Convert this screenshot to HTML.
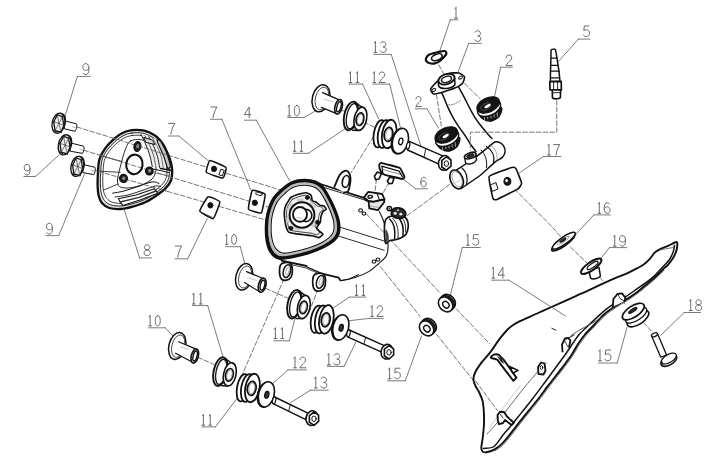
<!DOCTYPE html>
<html><head><meta charset="utf-8"><style>
html,body{margin:0;padding:0;background:#fff;}
svg{display:block;}
</style></head><body>
<svg width="710" height="465" viewBox="0 0 710 465" stroke-linecap="round" stroke-linejoin="round">
<rect width="710" height="465" fill="#fff"/>
<polyline points="77,127 282,190.5" stroke="#666666" stroke-width="0.9" fill="none" stroke-dasharray="4.6 2.2"/>
<polyline points="84,150.3 268,207" stroke="#666666" stroke-width="0.9" fill="none" stroke-dasharray="4.6 2.2"/>
<polyline points="95.5,170.5 266,220" stroke="#666666" stroke-width="0.9" fill="none" stroke-dasharray="4.6 2.2"/>
<polyline points="436.5,94.8 441.3,125.8" stroke="#666666" stroke-width="0.9" fill="none" stroke-dasharray="4.6 2.2"/>
<polyline points="464.5,83.2 480,98.7" stroke="#666666" stroke-width="0.9" fill="none" stroke-dasharray="4.6 2.2"/>
<polyline points="438.7,64.8 443.5,73.5" stroke="#666666" stroke-width="0.9" fill="none" stroke-dasharray="4.6 2.2"/>
<polyline points="505,179.5 549.4,224.1 561,236.8" stroke="#666666" stroke-width="0.9" fill="none" stroke-dasharray="4.6 2.2"/>
<polyline points="570.5,247 587.5,263.5" stroke="#666666" stroke-width="0.9" fill="none" stroke-dasharray="4.6 2.2"/>
<polyline points="599.7,277.4 625,304" stroke="#666666" stroke-width="0.9" fill="none" stroke-dasharray="4.6 2.2"/>
<polyline points="638.9,317.6 652.7,332.4" stroke="#666666" stroke-width="0.9" fill="none" stroke-dasharray="4.6 2.2"/>
<polyline points="449.5,184.6 407.4,215.5" stroke="#666666" stroke-width="0.9" fill="none" stroke-dasharray="4.6 2.2"/>
<polyline points="341,110 348,112.5" stroke="#666666" stroke-width="0.9" fill="none" stroke-dasharray="4.6 2.2"/>
<polyline points="364,122 376,128" stroke="#666666" stroke-width="0.9" fill="none" stroke-dasharray="4.6 2.2"/>
<polyline points="373.6,136.5 351.1,172.6" stroke="#666666" stroke-width="0.9" fill="none" stroke-dasharray="4.6 2.2"/>
<polyline points="456.3,308.9 489.5,343.6" stroke="#666666" stroke-width="0.9" fill="none" stroke-dasharray="4.6 2.2"/>
<polyline points="376,261.2 420.1,316.4" stroke="#666666" stroke-width="0.9" fill="none" stroke-dasharray="4.6 2.2"/>
<polyline points="436.7,334.5 498.8,412.3" stroke="#666666" stroke-width="0.9" fill="none" stroke-dasharray="4.6 2.2"/>
<polyline points="284,279 239,382" stroke="#666666" stroke-width="0.9" fill="none" stroke-dasharray="4.6 2.2"/>
<polyline points="318,289 310,310" stroke="#666666" stroke-width="0.9" fill="none" stroke-dasharray="4.6 2.2"/>
<polyline points="266,288.5 288.5,298.5" stroke="#666666" stroke-width="0.9" fill="none" stroke-dasharray="4.6 2.2"/>
<polyline points="198.1,357.4 214,364.5" stroke="#666666" stroke-width="0.9" fill="none" stroke-dasharray="4.6 2.2"/>
<polyline points="376.5,179 375,191" stroke="#666666" stroke-width="0.9" fill="none" stroke-dasharray="4.6 2.2"/>
<polyline points="389,182.5 383,193" stroke="#666666" stroke-width="0.9" fill="none" stroke-dasharray="4.6 2.2"/>
<path d="M0.7,9.3 C1.3,10.2 2.1,10.6 3.1,10.6 C5.1,10.6 6.1,8.4 6.1,5.1 C6.1,1.8 5,0 3.1,0 C1.4,0 0.2,1.3 0.2,3.3 C0.2,5.3 1.4,6.5 3.1,6.5 C4.6,6.5 5.7,5.6 6.1,4.1" transform="translate(82.6 63.6) scale(1.04)" stroke="#5a5a5a" stroke-width="0.87" fill="none"/>
<polyline points="77.4,76.4 90.3,76.4" stroke="#5a5a5a" stroke-width="0.8" fill="none" />
<polyline points="77.4,76.4 64.5,118" stroke="#5a5a5a" stroke-width="0.8" fill="none" />
<path d="M0.7,9.3 C1.3,10.2 2.1,10.6 3.1,10.6 C5.1,10.6 6.1,8.4 6.1,5.1 C6.1,1.8 5,0 3.1,0 C1.4,0 0.2,1.3 0.2,3.3 C0.2,5.3 1.4,6.5 3.1,6.5 C4.6,6.5 5.7,5.6 6.1,4.1" transform="translate(24 164.4) scale(1)" stroke="#5a5a5a" stroke-width="0.9" fill="none"/>
<polyline points="23.9,176.5 35.5,176.5" stroke="#5a5a5a" stroke-width="0.8" fill="none" />
<polyline points="35.5,176.5 59,155" stroke="#5a5a5a" stroke-width="0.8" fill="none" />
<path d="M0.7,9.3 C1.3,10.2 2.1,10.6 3.1,10.6 C5.1,10.6 6.1,8.4 6.1,5.1 C6.1,1.8 5,0 3.1,0 C1.4,0 0.2,1.3 0.2,3.3 C0.2,5.3 1.4,6.5 3.1,6.5 C4.6,6.5 5.7,5.6 6.1,4.1" transform="translate(46.2 223.2) scale(1.02)" stroke="#5a5a5a" stroke-width="0.88" fill="none"/>
<polyline points="46.1,235.6 58.7,235.6" stroke="#5a5a5a" stroke-width="0.8" fill="none" />
<polyline points="58.7,235.6 84.5,174" stroke="#5a5a5a" stroke-width="0.8" fill="none" />
<path d="M3.2,5 C1.7,5 0.6,4 0.6,2.5 C0.6,1 1.7,0 3.2,0 C4.7,0 5.8,1 5.8,2.5 C5.8,4 4.7,5 3.2,5 C1.4,5 0.2,6.1 0.2,7.8 C0.2,9.5 1.4,10.6 3.2,10.6 C5,10.6 6.2,9.5 6.2,7.8 C6.2,6.1 5,5 3.2,5 Z" transform="translate(143.9 244.8) scale(1.02)" stroke="#5a5a5a" stroke-width="0.88" fill="none"/>
<polyline points="139.6,257.9 151.5,257.9" stroke="#5a5a5a" stroke-width="0.8" fill="none" />
<polyline points="139.6,257.9 124.4,210.2" stroke="#5a5a5a" stroke-width="0.8" fill="none" />
<path d="M0.2,0.2 L6.2,0.2 C4.4,3 3,6.5 2.4,10.6" transform="translate(175.1 245.8) scale(1.08)" stroke="#5a5a5a" stroke-width="0.83" fill="none"/>
<polyline points="175,258.8 187.7,258.8" stroke="#5a5a5a" stroke-width="0.8" fill="none" />
<polyline points="187.7,258.8 207.2,218.7" stroke="#5a5a5a" stroke-width="0.8" fill="none" />
<path d="M0.2,0.2 L6.2,0.2 C4.4,3 3,6.5 2.4,10.6" transform="translate(168.4 123.2) scale(1.04)" stroke="#5a5a5a" stroke-width="0.87" fill="none"/>
<polyline points="168.3,136 178.9,136" stroke="#5a5a5a" stroke-width="0.8" fill="none" />
<polyline points="178.9,136 208.5,161" stroke="#5a5a5a" stroke-width="0.8" fill="none" />
<path d="M0.2,0.2 L6.2,0.2 C4.4,3 3,6.5 2.4,10.6" transform="translate(210.5 106.8) scale(1.04)" stroke="#5a5a5a" stroke-width="0.87" fill="none"/>
<polyline points="210.4,119.3 221.9,119.3" stroke="#5a5a5a" stroke-width="0.8" fill="none" />
<polyline points="221.9,119.3 251,190.3" stroke="#5a5a5a" stroke-width="0.8" fill="none" />
<path d="M4.9,10.6 L4.9,0 L0,7.6 L6.4,7.6" transform="translate(244.3 107) scale(1)" stroke="#5a5a5a" stroke-width="0.9" fill="none"/>
<polyline points="244.2,120.2 256.3,120.2" stroke="#5a5a5a" stroke-width="0.8" fill="none" />
<polyline points="256.3,120.2 289.7,181" stroke="#5a5a5a" stroke-width="0.8" fill="none" />
<path d="M1.4,0 L1.4,10.6 M0,10.6 L2.8,10.6 M1.4,0 L0.2,1.1" transform="translate(287.8 105.4) scale(0.99)" stroke="#5a5a5a" stroke-width="0.91" fill="none"/>
<path d="M3.2,0 C1.5,0 0.6,2.2 0.6,5.3 C0.6,8.4 1.5,10.6 3.2,10.6 C4.9,10.6 5.8,8.4 5.8,5.3 C5.8,2.2 4.9,0 3.2,0 Z" transform="translate(293.74 105.4) scale(0.99)" stroke="#5a5a5a" stroke-width="0.91" fill="none"/>
<polyline points="287.7,117.5 304.2,117.5" stroke="#5a5a5a" stroke-width="0.8" fill="none" />
<polyline points="304.2,117.5 314.8,111.3" stroke="#5a5a5a" stroke-width="0.8" fill="none" />
<path d="M1.4,0 L1.4,10.6 M0,10.6 L2.8,10.6 M1.4,0 L0.2,1.1" transform="translate(293.3 141.1) scale(0.96)" stroke="#5a5a5a" stroke-width="0.94" fill="none"/>
<path d="M1.4,0 L1.4,10.6 M0,10.6 L2.8,10.6 M1.4,0 L0.2,1.1" transform="translate(300.04 141.1) scale(0.96)" stroke="#5a5a5a" stroke-width="0.94" fill="none"/>
<polyline points="293.2,153.3 308.4,153.3" stroke="#5a5a5a" stroke-width="0.8" fill="none" />
<polyline points="308.4,153.3 346.8,127.7" stroke="#5a5a5a" stroke-width="0.8" fill="none" />
<path d="M1.4,0 L1.4,10.6 M0,10.6 L2.8,10.6 M1.4,0 L0.2,1.1" transform="translate(349.1 72) scale(0.99)" stroke="#5a5a5a" stroke-width="0.91" fill="none"/>
<path d="M1.4,0 L1.4,10.6 M0,10.6 L2.8,10.6 M1.4,0 L0.2,1.1" transform="translate(356.03 72) scale(0.99)" stroke="#5a5a5a" stroke-width="0.91" fill="none"/>
<polyline points="349,84.1 362.6,84.1" stroke="#5a5a5a" stroke-width="0.8" fill="none" />
<polyline points="362.6,84.1 378.7,119" stroke="#5a5a5a" stroke-width="0.8" fill="none" />
<path d="M1.4,0 L1.4,10.6 M0,10.6 L2.8,10.6 M1.4,0 L0.2,1.1" transform="translate(372.9 72) scale(0.99)" stroke="#5a5a5a" stroke-width="0.91" fill="none"/>
<path d="M0.4,2.6 C0.4,0.9 1.6,0 3.2,0 C4.9,0 5.9,1.1 5.9,2.7 C5.9,4.6 4.5,5.6 3,6.9 L0.2,10.6 L6.3,10.6" transform="translate(378.84 72) scale(0.99)" stroke="#5a5a5a" stroke-width="0.91" fill="none"/>
<polyline points="372.8,84.1 389.7,84.1" stroke="#5a5a5a" stroke-width="0.8" fill="none" />
<polyline points="389.7,84.1 400.5,128" stroke="#5a5a5a" stroke-width="0.8" fill="none" />
<path d="M1.4,0 L1.4,10.6 M0,10.6 L2.8,10.6 M1.4,0 L0.2,1.1" transform="translate(374 41.8) scale(1)" stroke="#5a5a5a" stroke-width="0.9" fill="none"/>
<path d="M0.5,1.4 C1.1,0.4 2,0 3.2,0 C4.8,0 5.8,1 5.8,2.6 C5.8,4.2 4.6,5.1 3,5.1 C4.9,5.1 6.2,6.1 6.2,7.8 C6.2,9.6 4.9,10.6 3.1,10.6 C1.8,10.6 0.8,10 0.2,9" transform="translate(380 41.8) scale(1)" stroke="#5a5a5a" stroke-width="0.9" fill="none"/>
<polyline points="373.9,54.4 391.2,54.4" stroke="#5a5a5a" stroke-width="0.8" fill="none" />
<polyline points="391.2,54.4 421.5,148" stroke="#5a5a5a" stroke-width="0.8" fill="none" />
<path d="M1.4,0 L1.4,10.6 M0,10.6 L2.8,10.6 M1.4,0 L0.2,1.1" transform="translate(454.6 7.6) scale(1)" stroke="#5a5a5a" stroke-width="0.9" fill="none"/>
<polyline points="450.3,19.8 458.1,19.8" stroke="#5a5a5a" stroke-width="0.8" fill="none" />
<polyline points="450.3,19.8 439.7,51.3" stroke="#5a5a5a" stroke-width="0.8" fill="none" />
<path d="M0.5,1.4 C1.1,0.4 2,0 3.2,0 C4.8,0 5.8,1 5.8,2.6 C5.8,4.2 4.6,5.1 3,5.1 C4.9,5.1 6.2,6.1 6.2,7.8 C6.2,9.6 4.9,10.6 3.1,10.6 C1.8,10.6 0.8,10 0.2,9" transform="translate(474.6 30.8) scale(1)" stroke="#5a5a5a" stroke-width="0.9" fill="none"/>
<polyline points="468.7,43.4 481.3,43.4" stroke="#5a5a5a" stroke-width="0.8" fill="none" />
<polyline points="468.7,43.4 457.1,74.5" stroke="#5a5a5a" stroke-width="0.8" fill="none" />
<path d="M0.4,2.6 C0.4,0.9 1.6,0 3.2,0 C4.9,0 5.9,1.1 5.9,2.7 C5.9,4.6 4.5,5.6 3,6.9 L0.2,10.6 L6.3,10.6" transform="translate(505.8 55) scale(1)" stroke="#5a5a5a" stroke-width="0.9" fill="none"/>
<polyline points="500.6,67.2 512.3,67.2" stroke="#5a5a5a" stroke-width="0.8" fill="none" />
<polyline points="500.6,67.2 494.5,96.8" stroke="#5a5a5a" stroke-width="0.8" fill="none" />
<path d="M0.4,2.6 C0.4,0.9 1.6,0 3.2,0 C4.9,0 5.9,1.1 5.9,2.7 C5.9,4.6 4.5,5.6 3,6.9 L0.2,10.6 L6.3,10.6" transform="translate(415.5 96.6) scale(0.94)" stroke="#5a5a5a" stroke-width="0.95" fill="none"/>
<polyline points="415.2,108.8 426.8,108.8" stroke="#5a5a5a" stroke-width="0.8" fill="none" />
<polyline points="426.8,108.8 438.4,127.8" stroke="#5a5a5a" stroke-width="0.8" fill="none" />
<path d="M5.8,0 L1.1,0 L0.6,4.7 C1.3,4 2.2,3.8 3.2,3.8 C5,3.8 6.2,5.1 6.2,7.2 C6.2,9.3 4.9,10.6 3.1,10.6 C1.8,10.6 0.8,10 0.2,9" transform="translate(583.2 25.9) scale(1.01)" stroke="#5a5a5a" stroke-width="0.89" fill="none"/>
<polyline points="578.4,39.1 590,39.1" stroke="#5a5a5a" stroke-width="0.8" fill="none" />
<polyline points="578.4,39.1 558.5,61.5" stroke="#5a5a5a" stroke-width="0.8" fill="none" />
<path d="M5.7,1.3 C5.1,0.4 4.3,0 3.3,0 C1.3,0 0.3,2.2 0.3,5.5 C0.3,8.8 1.4,10.6 3.3,10.6 C5,10.6 6.2,9.3 6.2,7.3 C6.2,5.3 5,4.1 3.3,4.1 C1.8,4.1 0.7,5 0.3,6.5" transform="translate(420.6 177.2) scale(0.91)" stroke="#5a5a5a" stroke-width="0.99" fill="none"/>
<polyline points="415.6,188.8 427.4,188.8" stroke="#5a5a5a" stroke-width="0.8" fill="none" />
<polyline points="415.6,188.8 403.8,179.4" stroke="#5a5a5a" stroke-width="0.8" fill="none" />
<path d="M1.4,0 L1.4,10.6 M0,10.6 L2.8,10.6 M1.4,0 L0.2,1.1" transform="translate(547.6 144.4) scale(1)" stroke="#5a5a5a" stroke-width="0.9" fill="none"/>
<path d="M0.2,0.2 L6.2,0.2 C4.4,3 3,6.5 2.4,10.6" transform="translate(553.6 144.4) scale(1)" stroke="#5a5a5a" stroke-width="0.9" fill="none"/>
<polyline points="543.5,156.5 561,156.5" stroke="#5a5a5a" stroke-width="0.8" fill="none" />
<polyline points="543.5,156.5 515.5,175.5" stroke="#5a5a5a" stroke-width="0.8" fill="none" />
<path d="M1.4,0 L1.4,10.6 M0,10.6 L2.8,10.6 M1.4,0 L0.2,1.1" transform="translate(597.9 202.7) scale(1)" stroke="#5a5a5a" stroke-width="0.9" fill="none"/>
<path d="M5.7,1.3 C5.1,0.4 4.3,0 3.3,0 C1.3,0 0.3,2.2 0.3,5.5 C0.3,8.8 1.4,10.6 3.3,10.6 C5,10.6 6.2,9.3 6.2,7.3 C6.2,5.3 5,4.1 3.3,4.1 C1.8,4.1 0.7,5 0.3,6.5" transform="translate(603.9 202.7) scale(1)" stroke="#5a5a5a" stroke-width="0.9" fill="none"/>
<polyline points="593.9,214.9 610.3,214.9" stroke="#5a5a5a" stroke-width="0.8" fill="none" />
<polyline points="593.9,214.9 575.5,234.8" stroke="#5a5a5a" stroke-width="0.8" fill="none" />
<path d="M1.4,0 L1.4,10.6 M0,10.6 L2.8,10.6 M1.4,0 L0.2,1.1" transform="translate(613.4 235.6) scale(1)" stroke="#5a5a5a" stroke-width="0.9" fill="none"/>
<path d="M0.7,9.3 C1.3,10.2 2.1,10.6 3.1,10.6 C5.1,10.6 6.1,8.4 6.1,5.1 C6.1,1.8 5,0 3.1,0 C1.4,0 0.2,1.3 0.2,3.3 C0.2,5.3 1.4,6.5 3.1,6.5 C4.6,6.5 5.7,5.6 6.1,4.1" transform="translate(619.4 235.6) scale(1)" stroke="#5a5a5a" stroke-width="0.9" fill="none"/>
<polyline points="609.4,247.6 626.8,247.6" stroke="#5a5a5a" stroke-width="0.8" fill="none" />
<polyline points="609.4,247.6 599.7,260" stroke="#5a5a5a" stroke-width="0.8" fill="none" />
<path d="M1.4,0 L1.4,10.6 M0,10.6 L2.8,10.6 M1.4,0 L0.2,1.1" transform="translate(689.3 299.8) scale(1.01)" stroke="#5a5a5a" stroke-width="0.89" fill="none"/>
<path d="M3.2,5 C1.7,5 0.6,4 0.6,2.5 C0.6,1 1.7,0 3.2,0 C4.7,0 5.8,1 5.8,2.5 C5.8,4 4.7,5 3.2,5 C1.4,5 0.2,6.1 0.2,7.8 C0.2,9.5 1.4,10.6 3.2,10.6 C5,10.6 6.2,9.5 6.2,7.8 C6.2,6.1 5,5 3.2,5 Z" transform="translate(695.36 299.8) scale(1.01)" stroke="#5a5a5a" stroke-width="0.89" fill="none"/>
<polyline points="684.2,312.5 700.5,312.5" stroke="#5a5a5a" stroke-width="0.8" fill="none" />
<polyline points="684.2,312.5 660.6,335.4" stroke="#5a5a5a" stroke-width="0.8" fill="none" />
<path d="M1.4,0 L1.4,10.6 M0,10.6 L2.8,10.6 M1.4,0 L0.2,1.1" transform="translate(598.6 350) scale(1.02)" stroke="#5a5a5a" stroke-width="0.88" fill="none"/>
<path d="M5.8,0 L1.1,0 L0.6,4.7 C1.3,4 2.2,3.8 3.2,3.8 C5,3.8 6.2,5.1 6.2,7.2 C6.2,9.3 4.9,10.6 3.1,10.6 C1.8,10.6 0.8,10 0.2,9" transform="translate(604.71 350) scale(1.02)" stroke="#5a5a5a" stroke-width="0.88" fill="none"/>
<polyline points="598.5,363 617.2,363" stroke="#5a5a5a" stroke-width="0.8" fill="none" />
<polyline points="617.2,363 627,327.5" stroke="#5a5a5a" stroke-width="0.8" fill="none" />
<path d="M1.4,0 L1.4,10.6 M0,10.6 L2.8,10.6 M1.4,0 L0.2,1.1" transform="translate(491.9 267.4) scale(1.01)" stroke="#5a5a5a" stroke-width="0.89" fill="none"/>
<path d="M4.9,10.6 L4.9,0 L0,7.6 L6.4,7.6" transform="translate(497.96 267.4) scale(1.01)" stroke="#5a5a5a" stroke-width="0.89" fill="none"/>
<polyline points="491.8,280.2 508.4,280.2" stroke="#5a5a5a" stroke-width="0.8" fill="none" />
<path d="M1.4,0 L1.4,10.6 M0,10.6 L2.8,10.6 M1.4,0 L0.2,1.1" transform="translate(466.5 234.6) scale(1)" stroke="#5a5a5a" stroke-width="0.9" fill="none"/>
<path d="M5.8,0 L1.1,0 L0.6,4.7 C1.3,4 2.2,3.8 3.2,3.8 C5,3.8 6.2,5.1 6.2,7.2 C6.2,9.3 4.9,10.6 3.1,10.6 C1.8,10.6 0.8,10 0.2,9" transform="translate(472.5 234.6) scale(1)" stroke="#5a5a5a" stroke-width="0.9" fill="none"/>
<polyline points="462.3,247.5 480.4,247.5" stroke="#5a5a5a" stroke-width="0.8" fill="none" />
<polyline points="462.3,247.5 450.3,295.3" stroke="#5a5a5a" stroke-width="0.8" fill="none" />
<path d="M1.4,0 L1.4,10.6 M0,10.6 L2.8,10.6 M1.4,0 L0.2,1.1" transform="translate(388.2 368.2) scale(1)" stroke="#5a5a5a" stroke-width="0.9" fill="none"/>
<path d="M5.8,0 L1.1,0 L0.6,4.7 C1.3,4 2.2,3.8 3.2,3.8 C5,3.8 6.2,5.1 6.2,7.2 C6.2,9.3 4.9,10.6 3.1,10.6 C1.8,10.6 0.8,10 0.2,9" transform="translate(394.2 368.2) scale(1)" stroke="#5a5a5a" stroke-width="0.9" fill="none"/>
<polyline points="387.5,380.8 405.2,380.8" stroke="#5a5a5a" stroke-width="0.8" fill="none" />
<polyline points="405.2,380.8 421.6,336" stroke="#5a5a5a" stroke-width="0.8" fill="none" />
<path d="M1.4,0 L1.4,10.6 M0,10.6 L2.8,10.6 M1.4,0 L0.2,1.1" transform="translate(225.4 234.4) scale(0.94)" stroke="#5a5a5a" stroke-width="0.95" fill="none"/>
<path d="M3.2,0 C1.5,0 0.6,2.2 0.6,5.3 C0.6,8.4 1.5,10.6 3.2,10.6 C4.9,10.6 5.8,8.4 5.8,5.3 C5.8,2.2 4.9,0 3.2,0 Z" transform="translate(231.06 234.4) scale(0.94)" stroke="#5a5a5a" stroke-width="0.95" fill="none"/>
<polyline points="225.3,246.7 240.3,246.7" stroke="#5a5a5a" stroke-width="0.8" fill="none" />
<polyline points="240.3,246.7 247.1,272.2" stroke="#5a5a5a" stroke-width="0.8" fill="none" />
<path d="M1.4,0 L1.4,10.6 M0,10.6 L2.8,10.6 M1.4,0 L0.2,1.1" transform="translate(148.8 315.6) scale(0.97)" stroke="#5a5a5a" stroke-width="0.93" fill="none"/>
<path d="M3.2,0 C1.5,0 0.6,2.2 0.6,5.3 C0.6,8.4 1.5,10.6 3.2,10.6 C4.9,10.6 5.8,8.4 5.8,5.3 C5.8,2.2 4.9,0 3.2,0 Z" transform="translate(154.63 315.6) scale(0.97)" stroke="#5a5a5a" stroke-width="0.93" fill="none"/>
<polyline points="148.7,327.8 165.2,327.8" stroke="#5a5a5a" stroke-width="0.8" fill="none" />
<polyline points="165.2,327.8 175.8,339" stroke="#5a5a5a" stroke-width="0.8" fill="none" />
<path d="M1.4,0 L1.4,10.6 M0,10.6 L2.8,10.6 M1.4,0 L0.2,1.1" transform="translate(192.4 293.4) scale(1)" stroke="#5a5a5a" stroke-width="0.9" fill="none"/>
<path d="M1.4,0 L1.4,10.6 M0,10.6 L2.8,10.6 M1.4,0 L0.2,1.1" transform="translate(199.4 293.4) scale(1)" stroke="#5a5a5a" stroke-width="0.9" fill="none"/>
<polyline points="192.3,305.6 207.7,305.6" stroke="#5a5a5a" stroke-width="0.8" fill="none" />
<polyline points="207.7,305.6 223.2,357.4" stroke="#5a5a5a" stroke-width="0.8" fill="none" />
<path d="M1.4,0 L1.4,10.6 M0,10.6 L2.8,10.6 M1.4,0 L0.2,1.1" transform="translate(202 414.8) scale(0.98)" stroke="#5a5a5a" stroke-width="0.92" fill="none"/>
<path d="M1.4,0 L1.4,10.6 M0,10.6 L2.8,10.6 M1.4,0 L0.2,1.1" transform="translate(208.87 414.8) scale(0.98)" stroke="#5a5a5a" stroke-width="0.92" fill="none"/>
<polyline points="201.9,426.9 215.5,426.9" stroke="#5a5a5a" stroke-width="0.8" fill="none" />
<polyline points="215.5,426.9 238.7,396.1" stroke="#5a5a5a" stroke-width="0.8" fill="none" />
<path d="M1.4,0 L1.4,10.6 M0,10.6 L2.8,10.6 M1.4,0 L0.2,1.1" transform="translate(293.6 357.2) scale(1)" stroke="#5a5a5a" stroke-width="0.9" fill="none"/>
<path d="M0.4,2.6 C0.4,0.9 1.6,0 3.2,0 C4.9,0 5.9,1.1 5.9,2.7 C5.9,4.6 4.5,5.6 3,6.9 L0.2,10.6 L6.3,10.6" transform="translate(299.6 357.2) scale(1)" stroke="#5a5a5a" stroke-width="0.9" fill="none"/>
<polyline points="288,369.9 306.6,369.9" stroke="#5a5a5a" stroke-width="0.8" fill="none" />
<polyline points="288,369.9 271.6,384.5" stroke="#5a5a5a" stroke-width="0.8" fill="none" />
<path d="M1.4,0 L1.4,10.6 M0,10.6 L2.8,10.6 M1.4,0 L0.2,1.1" transform="translate(314.4 377.2) scale(1.02)" stroke="#5a5a5a" stroke-width="0.88" fill="none"/>
<path d="M0.5,1.4 C1.1,0.4 2,0 3.2,0 C4.8,0 5.8,1 5.8,2.6 C5.8,4.2 4.6,5.1 3,5.1 C4.9,5.1 6.2,6.1 6.2,7.8 C6.2,9.6 4.9,10.6 3.1,10.6 C1.8,10.6 0.8,10 0.2,9" transform="translate(320.51 377.2) scale(1.02)" stroke="#5a5a5a" stroke-width="0.88" fill="none"/>
<polyline points="310.5,390.2 328.3,390.2" stroke="#5a5a5a" stroke-width="0.8" fill="none" />
<polyline points="310.5,390.2 290.9,402.5" stroke="#5a5a5a" stroke-width="0.8" fill="none" />
<path d="M1.4,0 L1.4,10.6 M0,10.6 L2.8,10.6 M1.4,0 L0.2,1.1" transform="translate(274 328) scale(1)" stroke="#5a5a5a" stroke-width="0.9" fill="none"/>
<path d="M1.4,0 L1.4,10.6 M0,10.6 L2.8,10.6 M1.4,0 L0.2,1.1" transform="translate(281 328) scale(1)" stroke="#5a5a5a" stroke-width="0.9" fill="none"/>
<polyline points="273.9,340.8 289.3,340.8" stroke="#5a5a5a" stroke-width="0.8" fill="none" />
<polyline points="289.3,340.8 295.1,317.6" stroke="#5a5a5a" stroke-width="0.8" fill="none" />
<path d="M1.4,0 L1.4,10.6 M0,10.6 L2.8,10.6 M1.4,0 L0.2,1.1" transform="translate(355.2 285) scale(0.98)" stroke="#5a5a5a" stroke-width="0.92" fill="none"/>
<path d="M1.4,0 L1.4,10.6 M0,10.6 L2.8,10.6 M1.4,0 L0.2,1.1" transform="translate(362.07 285) scale(0.98)" stroke="#5a5a5a" stroke-width="0.92" fill="none"/>
<polyline points="349.3,297.1 365.8,297.1" stroke="#5a5a5a" stroke-width="0.8" fill="none" />
<polyline points="349.3,297.1 331.9,308.9" stroke="#5a5a5a" stroke-width="0.8" fill="none" />
<path d="M1.4,0 L1.4,10.6 M0,10.6 L2.8,10.6 M1.4,0 L0.2,1.1" transform="translate(370.7 305.8) scale(1)" stroke="#5a5a5a" stroke-width="0.9" fill="none"/>
<path d="M0.4,2.6 C0.4,0.9 1.6,0 3.2,0 C4.9,0 5.9,1.1 5.9,2.7 C5.9,4.6 4.5,5.6 3,6.9 L0.2,10.6 L6.3,10.6" transform="translate(376.7 305.8) scale(1)" stroke="#5a5a5a" stroke-width="0.9" fill="none"/>
<polyline points="369.6,318.4 383.2,318.4" stroke="#5a5a5a" stroke-width="0.8" fill="none" />
<polyline points="369.6,318.4 347.4,320.9" stroke="#5a5a5a" stroke-width="0.8" fill="none" />
<path d="M1.4,0 L1.4,10.6 M0,10.6 L2.8,10.6 M1.4,0 L0.2,1.1" transform="translate(327.4 353.8) scale(1.04)" stroke="#5a5a5a" stroke-width="0.87" fill="none"/>
<path d="M0.5,1.4 C1.1,0.4 2,0 3.2,0 C4.8,0 5.8,1 5.8,2.6 C5.8,4.2 4.6,5.1 3,5.1 C4.9,5.1 6.2,6.1 6.2,7.8 C6.2,9.6 4.9,10.6 3.1,10.6 C1.8,10.6 0.8,10 0.2,9" transform="translate(333.63 353.8) scale(1.04)" stroke="#5a5a5a" stroke-width="0.87" fill="none"/>
<polyline points="327.3,366.4 344.1,366.4" stroke="#5a5a5a" stroke-width="0.8" fill="none" />
<polyline points="344.1,366.4 355.9,342" stroke="#5a5a5a" stroke-width="0.8" fill="none" />
<path d="M482.6,451.6 C483.38,452.29 484.76,452.59 486.5,452.3 C488.24,452.01 491.89,450.96 494.2,449.7 C496.51,448.44 499.57,446.13 501.9,443.9 C504.22,441.66 507.18,437.91 509.7,434.8 C512.22,431.69 515.81,426.88 518.7,423.2 C521.6,419.52 526.2,413.78 529,410.3 C531.8,406.82 534.41,403.84 537.4,400 C540.38,396.16 545.35,389.32 548.9,384.7 C552.45,380.08 557.71,373.65 561.1,369.2 C564.49,364.75 568.97,358.78 571.5,355 C574.03,351.22 575.98,347.07 578,344 C580.02,340.93 582.6,337.35 585,334.5 C587.4,331.65 591,328.15 594,325 C597,321.85 601.73,316.37 605,313.5 C608.27,310.63 612.57,308.01 615.8,305.9 C619.02,303.78 623.27,301.5 626.5,299.4 C629.73,297.3 634.07,294.31 637.3,291.9 C640.52,289.48 645.11,285.72 648,283.3 C650.89,280.88 654.34,277.9 656.6,275.8 C658.87,273.7 661.36,270.98 663.1,269.3 C664.84,267.62 666.76,266.21 668.2,264.6 C669.64,263 671.58,260.4 672.7,258.6 C673.83,256.8 675.03,254.4 675.7,252.6 C676.38,250.8 677.08,248.19 677.2,246.6 C677.32,245.01 677.85,242.12 676.5,242 C675.15,241.88 670.59,244.78 668.2,245.8 C665.82,246.82 662.64,247.78 660.6,248.8 C658.56,249.82 656.18,251.13 654.6,252.6 C653.02,254.07 651.74,256.81 650.1,258.6 C648.47,260.39 645.62,263.06 643.7,264.5 C641.78,265.94 639.88,266.83 637.3,268.2 C634.72,269.56 629.73,272.15 626.5,273.6 C623.27,275.06 619.02,276.55 615.8,277.9 C612.57,279.25 609.17,280.69 605,282.6 C600.83,284.51 592.31,288.62 588,290.6 C583.69,292.58 580.05,294.12 576.3,295.8 C572.55,297.48 566.72,300.12 563,301.8 C559.28,303.48 555.55,305.17 551.5,307 C547.45,308.83 540.73,311.88 536,314 C531.27,316.12 523.38,319.48 520,321.1 C516.62,322.72 515.36,323.54 513.5,324.8 C511.64,326.06 509.66,327.42 507.6,329.5 C505.55,331.58 502.41,335.28 499.8,338.7 C497.19,342.12 493.09,348.52 490.2,352.3 C487.31,356.08 482.82,360.72 480.5,363.9 C478.18,367.08 475.75,371.08 474.7,373.5 C473.65,375.92 473.38,378.12 473.5,380 C473.62,381.88 474.68,384.2 475.5,386 C476.32,387.8 477.94,389.75 479,392 C480.06,394.25 481.87,397.87 482.6,401 C483.34,404.13 483.7,409.18 483.9,412.9 C484.09,416.62 484.09,421.93 483.9,425.8 C483.7,429.67 482.99,435.41 482.6,438.7 C482.21,441.99 481.3,445.76 481.3,447.7 C481.3,449.63 481.82,450.91 482.6,451.6 Z" stroke="#111" stroke-width="1.9" fill="#fff" />
<path d="M483.5,448.5 C485.07,448.2 491.05,448.56 494,446.5 C496.95,444.44 500.65,437.91 503.2,434.8 C505.75,431.69 508.29,429.09 511,425.8 C513.72,422.51 518.21,416.77 521.3,412.9 C524.39,409.03 528.2,404.41 531.6,400 C535,395.59 540.26,388.52 544,383.5 C547.74,378.48 553.2,371 556.5,366.5 C559.8,362 563.52,357.02 566,353.5 C568.48,349.98 570.9,346 573,343 C575.1,340 577.45,336.35 580,333.5 C582.55,330.65 586.25,327.5 590,324 C593.75,320.5 601.13,313.41 605,310.2 C608.87,306.99 612.57,304.7 615.8,302.6 C619.02,300.5 623.27,298.28 626.5,296.2 C629.73,294.12 634.07,290.96 637.3,288.7 C640.52,286.44 645.27,283.2 648,281.1 C650.73,279 653.24,276.88 655.5,274.7 C657.76,272.52 661,268.88 663.1,266.6 C665.2,264.32 667.94,261.84 669.5,259.5 C671.06,257.16 672.75,253.1 673.5,251 C674.25,248.9 674.35,246.32 674.5,245.5" stroke="#111" stroke-width="1.5" fill="none" />
<path d="M495.04,450.82 C496.22,449.93 500.51,447.18 502.87,444.91 C505.23,442.64 508.25,438.81 510.79,435.68 C513.33,432.56 516.9,427.74 519.8,424.07 C522.7,420.39 527.28,414.66 530.09,411.18 C532.9,407.7 535.52,404.7 538.51,400.86 C541.49,397.02 546.45,390.18 550.01,385.55 C553.57,380.93 558.82,374.51 562.21,370.05 C565.61,365.58 570.12,359.57 572.66,355.78 C575.21,351.99 577.16,347.83 579.17,344.77 C581.18,341.71 583.69,338.22 586.07,335.4 C588.45,332.58 592.04,329.09 595.01,325.97 C597.99,322.84 602.69,317.39 605.92,314.55 C609.16,311.72 613.37,309.17 616.57,307.07 C619.77,304.97 624.03,302.68 627.26,300.57 C630.5,298.47 634.89,295.45 638.14,293.02 C641.38,290.59 645.98,286.8 648.9,284.38 C651.81,281.95 655.27,278.94 657.55,276.83 C659.83,274.71 663.11,271.27 664.09,270.29" stroke="#444" stroke-width="0.8" fill="none" />
<path d="M487,434 C488.5,432.35 494.15,426.45 497,423 C499.85,419.55 503.3,414.52 506,411 C508.7,407.48 512.45,402.8 515,399.5 C517.55,396.2 520.45,392.15 523,389 C525.55,385.85 529.52,381.43 532,378.5 C534.48,375.57 538.38,370.85 539.5,369.5" stroke="#444" stroke-width="0.8" fill="none" />
<path d="M571,335.5 C572.35,334.64 577.39,331.35 580,329.8 C582.61,328.25 585.99,326.53 588.4,325.2 C590.81,323.87 593.46,322.5 596.1,320.9 C598.74,319.29 604.51,315.46 606,314.5" stroke="#444" stroke-width="0.9" fill="none" />
<polyline points="660.6,249.8 672.7,247.6 674.8,244.6" stroke="#555" stroke-width="0.8" fill="none" />
<polyline points="489.4,428.1 504,407 520.3,385.5" stroke="#999" stroke-width="0.5" fill="none" />
<path d="M612.8,306.8 L613.4,299.0 L617.5,294.0 L622.0,293.4 L625.4,297.8 L624.5,301.2" stroke="#111" stroke-width="1.8" fill="#fff" />
<polyline points="617.5,294 620.5,299 624.5,301" stroke="#111" stroke-width="0.8" fill="none" />
<path d="M562.5,351.5 L562.0,344.5 L565.0,338.5 L568.0,337.8 L570.5,340.5 L569.0,347.0" stroke="#111" stroke-width="1.8" fill="#fff" />
<polyline points="565,341 567.5,346.5" stroke="#111" stroke-width="0.8" fill="none" />
<polyline points="566.5,339 574,335" stroke="#111" stroke-width="1" fill="none" />
<path d="M490.8,357.6 C491.4,354.6 495.6,353.4 498.8,354.8 L503.6,359.6 L516.4,377.6 L513.4,380.8 L499.6,362.8 L497.4,359.8 C495.4,358.6 492.8,358.9 490.8,357.6 Z" stroke="#111" stroke-width="1.9" fill="#fff" />
<path d="M497.0,356.0 L501.5,358.5 L504.5,364.0 L501.0,362.0 Z" stroke="none" stroke-width="0" fill="#222" />
<polygon points="509,366.2 518,370.4 513,373" stroke="#111" stroke-width="1.6" fill="#fff" />
<path d="M538.5,374.0 L538.0,367.0 L541.0,362.5 L544.5,363.5 L545.5,370.5 L543.5,374.5 Z" stroke="#111" stroke-width="1.8" fill="#fff" />
<ellipse cx="541.5" cy="367.5" rx="1.3" ry="2" stroke="#111" stroke-width="0.9" fill="none" />
<polyline points="545,362 547,363" stroke="#777" stroke-width="0.6" fill="none" />
<path d="M497.8,420.5 L497.6,415.0 L500.0,411.8 L504.0,412.0 L507.0,416.5 L513.8,422.8 L511.5,425.0 L505.0,420.0 L503.0,423.0 L499.0,424.2 Z" stroke="#111" stroke-width="1.9" fill="#fff" />
<polyline points="500.5,414.5 503,418" stroke="#111" stroke-width="0.9" fill="none" />
<polyline points="551.8,328.3 556,330.2" stroke="#111" stroke-width="0.9" fill="none" />
<polygon points="441.8,93 444.5,99 447.7,106.9 452.9,117.3 459.4,127.6 465.8,136.6 471,145 476,151.5 494.9,162.1 502.2,157.6 505,152.1 504,146.6 500.4,142.9 494.9,142 492,138.5 487.7,134 481.3,126.3 474.8,117.3 469.7,108.2 464.5,97.9 458.7,87.1" stroke="none" stroke-width="0" fill="#fff" />
<path d="M441.8,93 C442.25,94 443.52,96.68 444.5,99 C445.48,101.32 446.3,103.85 447.7,106.9 C449.1,109.95 450.95,113.85 452.9,117.3 C454.85,120.75 457.25,124.38 459.4,127.6 C461.55,130.82 463.87,133.7 465.8,136.6 C467.73,139.5 469.3,142.52 471,145 C472.7,147.48 475.17,150.42 476,151.5" stroke="#111" stroke-width="1.5" fill="none" />
<path d="M458.7,87.1 C459.67,88.9 462.67,94.38 464.5,97.9 C466.33,101.42 467.98,104.97 469.7,108.2 C471.42,111.43 472.87,114.28 474.8,117.3 C476.73,120.32 479.15,123.52 481.3,126.3 C483.45,129.08 485.92,131.97 487.7,134 C489.48,136.03 491.28,137.75 492,138.5" stroke="#111" stroke-width="1.5" fill="none" />
<path d="M447.7,104.6 C451,105.6 456,104.2 460.6,100.5" stroke="#777" stroke-width="0.7" fill="none" />
<path d="M456,170.4 C457.8,169.21 470.75,160.84 474,158.5 C477.25,156.16 486.41,148.65 488.5,147 C490.59,145.35 493.71,142.41 494.9,142 C496.09,141.59 499.49,142.44 500.4,142.9 C501.31,143.36 503.54,145.68 504,146.6 C504.46,147.52 505.18,151 505,152.1 C504.82,153.2 503.21,156.6 502.2,157.6 C501.19,158.6 497.12,160.31 494.9,162.1 C492.68,163.89 483.39,172.85 480,175.5 C476.61,178.15 462.9,187.29 461,188.6" stroke="#111" stroke-width="1.5" fill="#fff" />
<path d="M486.5,146.5 C492.0,150.0 495.0,156.0 493.5,163.0" stroke="#111" stroke-width="1.2" fill="none" />
<path d="M490.0,144.8 C495.5,148.0 498.0,154.0 497.0,160.5" stroke="#777" stroke-width="0.6" fill="none" />
<path d="M481.0,150.0 C485.0,154.0 487.5,160.0 486.5,167.5" stroke="#111" stroke-width="1" fill="none" />
<ellipse cx="456.6" cy="179.4" rx="6.2" ry="9.8" stroke="#111" stroke-width="1.7" fill="#fff" transform="rotate(-22 456.6 179.4)" />
<ellipse cx="457.2" cy="179.2" rx="4.6" ry="8" stroke="#777" stroke-width="0.6" fill="none" transform="rotate(-22 457.2 179.2)" />
<polyline points="454,183.5 460.5,180" stroke="#999" stroke-width="0.5" fill="none" />
<path d="M462.0,168.0 C466.0,171.5 468.0,178.0 466.5,185.0" stroke="#111" stroke-width="1.2" fill="none" />
<path d="M464.5,156.5 L465.5,162.5 C467,165 474,164.5 476.5,160.0 L475.8,154.5 Z" stroke="#111" stroke-width="1.4" fill="#fff" />
<ellipse cx="470.3" cy="155.6" rx="6" ry="2.8" stroke="#111" stroke-width="1.7" fill="#fff" transform="rotate(-18 470.3 155.6)" />
<ellipse cx="470.3" cy="155.6" rx="3.6" ry="1.5" stroke="#111" stroke-width="1.1" fill="#333" transform="rotate(-18 470.3 155.6)" />
<polyline points="556.8,100.5 556.8,132.2 470.3,132.2 470.3,150" stroke="#666666" stroke-width="0.9" fill="none" stroke-dasharray="4.6 2.2"/>
<path d="M430.6,89 C430.93,87.95 435.87,82.59 437.4,81.3 C438.93,80.01 447.23,74.19 449,73.5 C450.77,72.81 457.41,72.72 458.7,73 C459.99,73.28 464.18,75.95 464.5,76.8 C464.82,77.65 463.41,82.26 462.6,83.2 C461.79,84.14 456.42,87.38 454.8,88.1 C453.18,88.82 444.97,91.42 443.2,91.9 C441.43,92.38 434.55,94.14 433.5,93.9 C432.45,93.66 430.28,90.05 430.6,89 Z" stroke="#111" stroke-width="1.6" fill="#fff" />
<ellipse cx="433.8" cy="90" rx="2" ry="1.3" stroke="#111" stroke-width="1" fill="none" transform="rotate(-25 433.8 90)" />
<ellipse cx="460.5" cy="77.6" rx="2" ry="1.3" stroke="#111" stroke-width="1" fill="none" transform="rotate(-25 460.5 77.6)" />
<path d="M438.2,81.5 L438.6,86.0 C441,90 452,89 455,84.5 L454.6,78.2 Z" stroke="#111" stroke-width="1.5" fill="#fff" />
<ellipse cx="446.5" cy="79.2" rx="8.4" ry="5" stroke="#111" stroke-width="1.9" fill="#fff" transform="rotate(-18 446.5 79.2)" />
<ellipse cx="446.5" cy="79.4" rx="5.2" ry="2.9" stroke="#111" stroke-width="1.5" fill="#fff" transform="rotate(-18 446.5 79.4)" />
<path d="M131.8,130.2 C135.32,129.7 140.07,129.87 143.1,130.3 C146.13,130.73 147.72,131.72 150,132.8 C152.28,133.88 154.63,134.93 156.8,136.8 C158.97,138.67 161.13,141.1 163,144 C164.87,146.9 166.63,150.97 168,154.2 C169.37,157.43 170.5,160.52 171.2,163.4 C171.9,166.28 172.23,168.65 172.2,171.5 C172.17,174.35 172.12,177.68 171,180.5 C169.88,183.32 167.9,185.92 165.5,188.4 C163.1,190.88 159.97,193.1 156.6,195.4 C153.23,197.7 149.43,200.3 145.3,202.2 C141.17,204.1 135.93,205.67 131.8,206.8 C127.67,207.93 124.25,208.8 120.5,209 C116.75,209.2 112.35,208.95 109.3,208 C106.25,207.05 103.98,205.4 102.2,203.3 C100.42,201.2 99.37,198.53 98.6,195.4 C97.83,192.27 97.7,188.35 97.6,184.5 C97.5,180.65 97.7,176.48 98,172.3 C98.3,168.12 98.27,163.32 99.4,159.4 C100.53,155.48 102.57,152 104.8,148.8 C107.03,145.6 109.93,142.78 112.8,140.2 C115.67,137.62 118.83,134.97 122,133.3 C125.17,131.63 128.28,130.7 131.8,130.2 Z" stroke="#111" stroke-width="2.3" fill="#dcdcdc" />
<path d="M132,133.03 C135.26,132.57 139.65,132.73 142.45,133.13 C145.26,133.53 146.73,134.44 148.84,135.44 C150.95,136.44 153.12,137.41 155.13,139.14 C157.13,140.87 159.14,143.12 160.86,145.8 C162.59,148.48 164.22,152.24 165.49,155.23 C166.75,158.23 167.8,161.08 168.45,163.75 C169.09,166.41 169.4,168.6 169.37,171.24 C169.34,173.87 169.3,176.96 168.26,179.56 C167.23,182.17 165.4,184.57 163.18,186.87 C160.96,189.17 158.06,191.22 154.94,193.34 C151.83,195.47 148.31,197.88 144.49,199.63 C140.67,201.39 135.83,202.84 132,203.89 C128.18,204.94 125.02,205.74 121.55,205.93 C118.08,206.11 114.01,205.88 111.19,205 C108.37,204.12 106.27,202.59 104.62,200.65 C102.97,198.71 102,196.24 101.29,193.34 C100.58,190.45 100.46,186.82 100.37,183.26 C100.27,179.7 100.46,175.85 100.74,171.98 C101.02,168.11 100.98,163.67 102.03,160.05 C103.08,156.42 104.96,153.2 107.03,150.24 C109.09,147.28 111.78,144.67 114.43,142.28 C117.08,139.9 120.01,137.44 122.94,135.9 C125.87,134.36 128.75,133.5 132,133.03 Z" stroke="#111" stroke-width="0.9" fill="#fff" />
<path d="M132.18,135.49 C135.2,135.06 139.29,135.21 141.9,135.58 C144.5,135.95 145.87,136.8 147.83,137.73 C149.79,138.66 151.81,139.56 153.68,141.17 C155.54,142.77 157.4,144.87 159.01,147.36 C160.62,149.85 162.13,153.35 163.31,156.13 C164.49,158.91 165.46,161.56 166.06,164.04 C166.66,166.52 166.95,168.56 166.92,171.01 C166.89,173.46 166.85,176.33 165.89,178.75 C164.93,181.17 163.22,183.41 161.16,185.54 C159.1,187.68 156.4,189.59 153.51,191.56 C150.61,193.54 147.34,195.78 143.79,197.41 C140.23,199.05 135.73,200.39 132.18,201.37 C128.62,202.34 125.69,203.09 122.46,203.26 C119.24,203.43 115.45,203.22 112.83,202.4 C110.2,201.58 108.26,200.16 106.72,198.36 C105.19,196.55 104.29,194.26 103.63,191.56 C102.97,188.87 102.85,185.5 102.77,182.19 C102.68,178.88 102.85,175.3 103.11,171.7 C103.37,168.1 103.34,163.97 104.31,160.6 C105.29,157.24 107.04,154.24 108.96,151.49 C110.88,148.74 113.37,146.31 115.84,144.09 C118.3,141.87 121.03,139.59 123.75,138.16 C126.47,136.72 129.15,135.92 132.18,135.49 Z" stroke="#111" stroke-width="0.8" fill="none" />
<path d="M130.5,141 C132.75,139.83 137.33,139.17 140,139.5 C142.67,139.83 144.58,140.92 146.5,143 C148.42,145.08 150,148.58 151.5,152 C153,155.42 154.83,160.08 155.5,163.5 C156.17,166.92 156.25,169.75 155.5,172.5 C154.75,175.25 153.58,177.83 151,180 C148.42,182.17 143.83,184.17 140,185.5 C136.17,186.83 131.42,187.83 128,188 C124.58,188.17 121.25,187.83 119.5,186.5 C117.75,185.17 117.42,183.08 117.5,180 C117.58,176.92 119,172.17 120,168 C121,163.83 122.42,158.58 123.5,155 C124.58,151.42 125.33,148.83 126.5,146.5 C127.67,144.17 128.25,142.17 130.5,141 Z" stroke="#111" stroke-width="0.9" fill="none" />
<polyline points="102.5,156.1 121.8,161.5" stroke="#111" stroke-width="0.8" fill="none" />
<polyline points="100.3,171.2 120.2,172.3" stroke="#111" stroke-width="0.8" fill="none" />
<polyline points="104,190 118,184" stroke="#111" stroke-width="0.8" fill="none" />
<path d="M141,134.5 C141.83,136.25 144.5,141.42 146,145 C147.5,148.58 148.97,152.42 150,156 C151.03,159.58 151.83,164.75 152.2,166.5 L167,168.5 L165,157 L161.5,148 L156.5,139 Z" stroke="none" stroke-width="0" fill="#ececec" />
<path d="M141,134.5 C141.83,136.25 144.5,141.42 146,145 C147.5,148.58 148.97,152.42 150,156 C151.03,159.58 151.83,164.75 152.2,166.5" stroke="#222" stroke-width="1" fill="none" />
<path d="M144.88,135.62 C145.71,137.31 148.4,142.31 149.88,145.75 C151.35,149.19 152.75,152.71 153.75,156.25 C154.75,159.79 155.54,165.21 155.9,167" stroke="#444" stroke-width="0.8" fill="none" />
<path d="M148.75,136.75 C149.58,138.38 152.29,143.21 153.75,146.5 C155.21,149.79 156.53,153 157.5,156.5 C158.47,160 159.25,165.67 159.6,167.5" stroke="#222" stroke-width="1" fill="none" />
<path d="M152.62,137.88 C153.46,139.44 156.19,144.1 157.62,147.25 C159.06,150.4 160.3,153.29 161.25,156.75 C162.2,160.21 162.96,166.12 163.3,168" stroke="#555" stroke-width="0.8" fill="none" />
<path d="M156.5,139 C157.33,140.5 160.08,145 161.5,148 C162.92,151 164.08,153.58 165,157 C165.92,160.42 166.67,166.58 167,168.5" stroke="#222" stroke-width="1" fill="none" />
<polyline points="150.5,168.5 158,170 168.5,172.5" stroke="#111" stroke-width="1" fill="none" />
<polyline points="152,172.5 160,174 169.5,176" stroke="#555" stroke-width="0.7" fill="none" />
<polygon points="144,137.5 152.5,140 155,144.5 146.5,142.5" stroke="#111" stroke-width="1" fill="#d8d8d8" />
<path d="M157.2,141.2 C156.88,139.83 159.48,139.78 160.2,140.6 C160.92,141.42 165,149.13 165.8,151 C166.6,152.87 169.43,161.67 169.8,163 C170.17,164.33 170.38,166.57 170.2,167 C170.02,167.43 168.12,169.03 167.6,168.2 C167.08,167.37 164.87,159.25 164,157 C163.13,154.75 157.52,142.57 157.2,141.2 Z" stroke="#111" stroke-width="1.1" fill="#c4c4c4" />
<polyline points="160.5,168.5 170.5,170.2" stroke="#111" stroke-width="1.6" fill="none" />
<path d="M112.6,193.2 C114.5,192.83 119.77,192.12 124,191 C128.23,189.88 133.32,188.02 138,186.5 C142.68,184.98 148.6,182.4 152.1,181.9 C155.6,181.4 157.85,183.23 159,183.5" stroke="#111" stroke-width="1" fill="none" />
<path d="M115,197 C117.17,196.67 123.5,196.08 128,195 C132.5,193.92 137.42,192 142,190.5 C146.58,189 152.42,186.67 155.5,186 C158.58,185.33 159.67,186.42 160.5,186.5" stroke="#111" stroke-width="0.9" fill="none" />
<polygon points="118.3,198.8 136,195 154.3,188.7 157.7,193.2 140,200 122.8,205.6" stroke="#111" stroke-width="1.1" fill="#fff" />
<polyline points="120.2,202 139,197.4 156,191" stroke="#333" stroke-width="1.4" fill="none" />
<polyline points="112,137.8 167,154.9" stroke="#666666" stroke-width="0.9" fill="none" stroke-dasharray="4.6 2.2"/>
<polyline points="99,154.9 172.5,177.6" stroke="#666666" stroke-width="0.9" fill="none" stroke-dasharray="4.6 2.2"/>
<polyline points="98.5,171.4 167,191.2" stroke="#666666" stroke-width="0.9" fill="none" stroke-dasharray="4.6 2.2"/>
<ellipse cx="134.4" cy="164.4" rx="8.2" ry="9.8" stroke="#111" stroke-width="2.1" fill="none" transform="rotate(8 134.4 164.4)" />
<ellipse cx="137.4" cy="146.5" rx="3.4" ry="5" stroke="#111" stroke-width="1.2" fill="#1c1c1c" transform="rotate(10 137.4 146.5)" />
<ellipse cx="137.7" cy="146.3" rx="1.53" ry="2.25" stroke="none" stroke-width="0" fill="#888" transform="rotate(10 137.7 146.3)" />
<ellipse cx="149.3" cy="171" rx="3.7" ry="4" stroke="#111" stroke-width="1.2" fill="#1c1c1c" transform="rotate(10 149.3 171)" />
<ellipse cx="149.6" cy="170.8" rx="1.67" ry="1.8" stroke="none" stroke-width="0" fill="#888" transform="rotate(10 149.6 170.8)" />
<ellipse cx="123.5" cy="178.4" rx="3.9" ry="4" stroke="#111" stroke-width="1.2" fill="#1c1c1c" transform="rotate(10 123.5 178.4)" />
<ellipse cx="123.8" cy="178.2" rx="1.75" ry="1.8" stroke="none" stroke-width="0" fill="#888" transform="rotate(10 123.8 178.2)" />
<polygon points="300,179.4 322,184.2 366,198.6 385,200.2 388.6,214 389.6,240 387.2,256 378.4,263.8 368.7,271.6 355,277.4 341,280.6 322,274 306,266.6 282,261 268,245" stroke="none" stroke-width="0" fill="#fff" />
<polyline points="320.2,184 365.5,198.4" stroke="#111" stroke-width="1.8" fill="none" />
<polyline points="321,186.6 366,200.4" stroke="#111" stroke-width="0.9" fill="none" />
<path d="M379.3,211.6 C380.12,213.53 382.75,217.72 384.2,223.2 C385.65,228.68 387.67,239.02 388,244.5 C388.33,249.98 387.8,252.88 386.2,256.1 C384.6,259.32 381.32,261.22 378.4,263.8 C375.48,266.38 372.58,269.33 368.7,271.6 C364.82,273.87 359.62,275.9 355.1,277.4 C350.58,278.9 343.85,280.07 341.6,280.6" stroke="#111" stroke-width="1.1" fill="none" />
<polyline points="341.6,280.6 349,279 358.6,274.6" stroke="#111" stroke-width="1" fill="none" />
<polyline points="339.7,227.1 386.1,241.6" stroke="#111" stroke-width="0.9" fill="none" />
<polyline points="337.7,235.8 384.2,250.3" stroke="#111" stroke-width="0.9" fill="none" />
<polyline points="281.5,260.6 306.5,266" stroke="#111" stroke-width="1.8" fill="none" />
<polyline points="306.5,266.8 322,273.6" stroke="#111" stroke-width="1.2" fill="none" />
<polyline points="322,273.6 338.5,277.6 340.5,280.4" stroke="#111" stroke-width="1.8" fill="none" />
<polyline points="285,263.2 306,268 322,275" stroke="#111" stroke-width="0.8" fill="none" />
<path d="M282.1,189.6 C285.35,186.7 288.83,183.78 292.6,182.2 C296.37,180.62 300.93,180.15 304.7,180.1 C308.47,180.05 312.28,180.78 315.2,181.9 C318.12,183.02 320.03,184.38 322.2,186.8 C324.37,189.22 326.17,192.67 328.2,196.4 C330.23,200.13 332.67,204.9 334.4,209.2 C336.13,213.5 337.93,218.15 338.6,222.2 C339.27,226.25 339.2,230.47 338.4,233.5 C337.6,236.53 336.3,238.15 333.8,240.4 C331.3,242.65 327.48,244.95 323.4,247 C319.32,249.05 314.47,251.05 309.3,252.7 C304.13,254.35 297.45,255.95 292.4,256.9 C287.35,257.85 282.57,259.13 279,258.4 C275.43,257.67 273,255.4 271,252.5 C269,249.6 267.8,245.25 267,241 C266.2,236.75 266.1,231.42 266.2,227 C266.3,222.58 266.45,219.07 267.6,214.5 C268.75,209.93 270.68,203.75 273.1,199.6 C275.52,195.45 278.85,192.5 282.1,189.6 Z" stroke="none" stroke-width="1" fill="#fff" />
<path d="M282.41,190.03 C285.61,187.18 289.04,184.3 292.75,182.74 C296.46,181.18 300.96,180.73 304.67,180.68 C308.38,180.63 312.14,181.35 315.01,182.45 C317.88,183.55 319.77,184.9 321.9,187.28 C324.04,189.66 325.81,193.05 327.81,196.73 C329.82,200.41 332.21,205.1 333.92,209.34 C335.63,213.57 337.4,218.16 338.06,222.14 C338.72,226.13 338.65,230.29 337.86,233.28 C337.07,236.26 335.79,237.86 333.33,240.07 C330.87,242.29 327.11,244.55 323.09,246.57 C319.06,248.59 314.29,250.56 309.2,252.19 C304.11,253.81 297.53,255.39 292.55,256.32 C287.58,257.26 282.87,258.52 279.35,257.8 C275.84,257.08 273.44,254.85 271.47,251.99 C269.5,249.13 268.32,244.85 267.53,240.66 C266.74,236.48 266.65,231.22 266.74,226.87 C266.84,222.52 266.99,219.06 268.12,214.56 C269.26,210.06 271.16,203.97 273.54,199.88 C275.92,195.8 279.2,192.89 282.41,190.03 Z" stroke="#111" stroke-width="4" fill="none" />
<path d="M283.83,192.06 C286.81,189.4 290,186.73 293.44,185.29 C296.89,183.84 301.07,183.41 304.51,183.36 C307.96,183.32 311.45,183.99 314.12,185.01 C316.79,186.03 318.54,187.28 320.53,189.49 C322.51,191.71 324.15,194.86 326.02,198.28 C327.88,201.69 330.1,206.06 331.69,209.99 C333.27,213.92 334.92,218.18 335.53,221.89 C336.14,225.59 336.08,229.45 335.35,232.22 C334.62,235 333.43,236.48 331.14,238.54 C328.85,240.6 325.36,242.7 321.62,244.58 C317.89,246.45 313.45,248.28 308.72,249.79 C303.99,251.3 297.88,252.77 293.26,253.64 C288.64,254.51 284.26,255.68 281,255.01 C277.73,254.34 275.51,252.26 273.68,249.61 C271.85,246.96 270.75,242.98 270.02,239.09 C269.29,235.2 269.19,230.32 269.29,226.28 C269.38,222.24 269.51,219.02 270.57,214.84 C271.62,210.66 273.39,205 275.6,201.21 C277.81,197.41 280.86,194.71 283.83,192.06 Z" stroke="#b8b8b8" stroke-width="2.2" fill="none" />
<path d="M284.85,193.5 C287.67,190.99 290.68,188.47 293.94,187.1 C297.19,185.73 301.14,185.33 304.4,185.28 C307.66,185.24 310.96,185.88 313.49,186.84 C316.01,187.81 317.67,188.99 319.54,191.08 C321.41,193.17 322.97,196.15 324.73,199.38 C326.49,202.61 328.59,206.74 330.09,210.46 C331.59,214.18 333.15,218.2 333.73,221.7 C334.3,225.2 334.25,228.85 333.55,231.47 C332.86,234.1 331.74,235.5 329.57,237.44 C327.41,239.39 324.11,241.38 320.58,243.15 C317.05,244.93 312.85,246.66 308.38,248.08 C303.91,249.51 298.13,250.89 293.76,251.72 C289.4,252.54 285.26,253.65 282.17,253.01 C279.09,252.38 276.98,250.42 275.25,247.91 C273.52,245.4 272.48,241.64 271.79,237.96 C271.1,234.29 271.01,229.67 271.1,225.85 C271.19,222.03 271.32,218.99 272.31,215.04 C273.31,211.09 274.98,205.74 277.07,202.15 C279.16,198.56 282.04,196.01 284.85,193.5 Z" stroke="#111" stroke-width="1.1" fill="none" />
<path d="M290.8,197.5 C291.77,196.85 296.8,194.78 298.3,194.3 C299.8,193.82 304.51,192.59 305.8,192.7 C307.09,192.81 310.55,194.59 311.2,195.4 C311.85,196.21 311.87,200.16 312.3,200.8 C312.73,201.44 314.75,201.37 315.5,201.8 C316.25,202.23 318.94,204.67 319.8,205.1 C320.66,205.53 323.46,205.67 324.1,206.1 C324.74,206.53 326.31,208.86 326.2,209.4 C326.09,209.94 323.53,210.75 323,211.5 C322.47,212.25 321.17,215.82 320.9,216.9 C320.63,217.98 320.73,221.19 320.3,222.3 C319.87,223.41 316.65,227.07 316.6,228 C316.55,228.93 319.16,230.98 319.8,231.6 C320.44,232.22 323.11,233.6 323,234.2 C322.89,234.8 319.77,237.44 318.7,237.6 C317.63,237.76 313.8,236.08 312.3,235.8 C310.8,235.52 305.42,235.02 303.7,234.8 C301.98,234.58 296.61,233.86 295.1,233.6 C293.59,233.34 289.48,232.82 288.6,232.2 C287.72,231.58 286.68,228.61 286.3,227.4 C285.92,226.19 285,221.69 284.8,220.1 C284.6,218.51 284.19,213 284.3,211.5 C284.41,210 285.47,206.17 285.9,205.1 C286.33,204.03 288.11,201.56 288.6,200.8 C289.09,200.04 289.83,198.15 290.8,197.5 Z" stroke="#111" stroke-width="1.6" fill="#f0f0f0" />
<path d="M292.2,199.48 C293.06,198.91 297.48,197.09 298.8,196.66 C300.12,196.24 304.27,195.16 305.4,195.26 C306.54,195.35 309.58,196.92 310.16,197.63 C310.73,198.34 310.75,201.82 311.12,202.38 C311.5,202.95 313.28,202.89 313.94,203.26 C314.6,203.64 316.97,205.79 317.72,206.17 C318.48,206.55 320.94,206.67 321.51,207.05 C322.07,207.43 323.45,209.48 323.36,209.95 C323.26,210.43 321.01,211.14 320.54,211.8 C320.07,212.46 318.93,215.6 318.69,216.55 C318.45,217.5 318.54,220.33 318.16,221.3 C317.79,222.28 314.95,225.5 314.91,226.32 C314.86,227.14 317.16,228.94 317.72,229.49 C318.29,230.03 320.64,231.25 320.54,231.78 C320.44,232.3 317.7,234.63 316.76,234.77 C315.81,234.91 312.44,233.43 311.12,233.18 C309.8,232.94 305.07,232.5 303.56,232.3 C302.04,232.11 297.32,231.48 295.99,231.25 C294.66,231.02 291.04,230.56 290.27,230.02 C289.49,229.47 288.58,226.86 288.24,225.79 C287.91,224.73 287.1,220.77 286.92,219.37 C286.75,217.97 286.39,213.12 286.48,211.8 C286.58,210.48 287.51,207.11 287.89,206.17 C288.27,205.23 289.84,203.05 290.27,202.38 C290.7,201.72 291.35,200.05 292.2,199.48 Z" stroke="#111" stroke-width="0.8" fill="none" />
<polygon points="289.71,210.42 286.51,209.25 291.5,202.13 293.69,204.74" stroke="none" stroke-width="0" fill="#cfcfcf" />
<polygon points="297.72,202.41 296.55,199.21 303.76,198.26 303.47,201.65" stroke="none" stroke-width="0" fill="#cfcfcf" />
<polygon points="309,203.4 310.7,200.45 316.85,206.6 313.9,208.3" stroke="none" stroke-width="0" fill="#cfcfcf" />
<polygon points="314.89,219.58 318.09,220.75 313.1,227.87 310.91,225.26" stroke="none" stroke-width="0" fill="#cfcfcf" />
<polygon points="299.97,228.2 299.38,231.54 291.5,227.87 293.69,225.26" stroke="none" stroke-width="0" fill="#cfcfcf" />
<polygon points="290.7,221.7 287.75,223.4 285.76,217.92 289.1,217.33" stroke="none" stroke-width="0" fill="#cfcfcf" />
<ellipse cx="302" cy="215" rx="12.4" ry="12.8" stroke="#111" stroke-width="2" fill="#fff" />
<ellipse cx="306" cy="215.4" rx="5.8" ry="6.2" stroke="#111" stroke-width="1.6" fill="#fff" />
<ellipse cx="300" cy="214.4" rx="7" ry="7.4" stroke="#111" stroke-width="1.9" fill="#fff" />
<polyline points="297.5,217.5 301.5,218.5" stroke="#888" stroke-width="0.6" fill="none" />
<ellipse cx="307.4" cy="197.5" rx="2" ry="2" stroke="#111" stroke-width="0.8" fill="#111" />
<ellipse cx="317.6" cy="222.3" rx="2" ry="2" stroke="#111" stroke-width="0.8" fill="#111" />
<ellipse cx="290.8" cy="228.2" rx="2" ry="2" stroke="#111" stroke-width="0.8" fill="#111" />
<path d="M334.4,186.9 C335.08,185.35 338.13,177.45 339.5,175.3 C340.87,173.15 343.5,171.23 344.7,170.8 C345.9,170.37 347.73,171.15 348.5,172.1 C349.27,173.05 350.33,176.1 350.5,177.9 C350.67,179.7 350.15,183.79 349.8,185.6 C349.45,187.41 348.67,190.59 347.9,191.5 C347.13,192.41 344.52,192.28 344,192.4" stroke="#111" stroke-width="1.8" fill="#fff" />
<ellipse cx="345.8" cy="181.4" rx="3.4" ry="6" stroke="#111" stroke-width="1.7" fill="#fff" transform="rotate(12 345.8 181.4)" />
<polygon points="368.5,201 373.5,201.6 384.4,199 384.2,202.2 377.9,210.2 369.3,208.3" stroke="#111" stroke-width="1.8" fill="#e6e6e6" />
<polygon points="364,197.4 368.3,191.9 382.2,194 384.4,199 373.5,201.6 368.5,201" stroke="#111" stroke-width="1.8" fill="#fff" />
<polyline points="364,197.4 366,200.5 368.5,201" stroke="#111" stroke-width="1.5" fill="none" />
<ellipse cx="370.2" cy="196.8" rx="2.3" ry="1.4" stroke="#111" stroke-width="1.4" fill="#fff" transform="rotate(-10 370.2 196.8)" />
<polyline points="377.4,194.6 379,198.6" stroke="#111" stroke-width="1.2" fill="none" />
<polyline points="370,206 378.5,207.4" stroke="#888" stroke-width="0.7" fill="none" />
<polyline points="366.5,214 440.5,293.4" stroke="#666666" stroke-width="0.9" fill="none" stroke-dasharray="4.6 2.2"/>
<ellipse cx="360.6" cy="210.4" rx="1.9" ry="1.6" stroke="#111" stroke-width="1.1" fill="#fff" />
<ellipse cx="364" cy="213.6" rx="1.9" ry="1.6" stroke="#111" stroke-width="1.1" fill="#fff" />
<ellipse cx="374" cy="261.6" rx="1.9" ry="1.6" stroke="#111" stroke-width="1.1" fill="#fff" />
<ellipse cx="378" cy="259.6" rx="1.9" ry="1.6" stroke="#111" stroke-width="1.1" fill="#fff" />
<path d="M385.6,243 C384.91,241.71 384.48,233.87 384.4,231 C384.32,228.13 384.57,223.29 385,221.5 C385.43,219.71 386.67,218.33 387.6,217.6 C388.53,216.87 390.55,216.27 392,216 C393.45,215.73 396.9,215.52 398.5,215.6 C400.1,215.68 402.81,215.95 404,216.6 C405.19,217.25 406.84,219.11 407.4,220.5 C407.96,221.89 408.36,225.2 408.2,227 C408.04,228.8 407.13,232.56 406.2,234 C405.27,235.44 402.64,237.04 401.2,237.8 C399.76,238.56 396.95,239.31 395.4,239.7 C393.85,240.09 390.91,240.26 389.6,240.7 C388.29,241.14 386.29,244.29 385.6,243 Z" stroke="#111" stroke-width="1.7" fill="#fff" />
<path d="M385.6,229.0 C388.2,231.5 389.2,236.5 388.6,241.2 L386.2,242.0 C385.4,237.0 385.0,232.0 385.6,229.0 Z" stroke="none" stroke-width="0" fill="#444" />
<path d="M389.6,219.0 C393.6,222.5 395.6,229.5 394.6,238.8" stroke="#111" stroke-width="1.5" fill="none" />
<path d="M392.6,218.4 C396.6,222.0 398.8,228.5 398.0,237.8" stroke="#111" stroke-width="0.9" fill="none" />
<path d="M398.4,217.6 C402.0,221.0 403.8,227.0 403.0,235.6" stroke="#111" stroke-width="1.5" fill="none" />
<path d="M401.6,217.4 C404.8,220.5 406.0,225.5 405.6,232.0" stroke="#111" stroke-width="0.9" fill="none" />
<ellipse cx="389.4" cy="208.6" rx="2.3" ry="2.2" stroke="#111" stroke-width="1.5" fill="#fff" />
<ellipse cx="389.4" cy="208.6" rx="0.9" ry="0.9" stroke="none" stroke-width="0" fill="#333" />
<path d="M391.5,211.5 C391.9,210.5 393.87,208.47 395,208 C396.13,207.53 398.73,207.67 400,208 C401.27,208.33 403.7,209.63 404.5,210.5 C405.3,211.37 406.27,213.5 406,214.5 C405.73,215.5 403.83,217.53 402.5,218 C401.17,218.47 397.4,218.33 396,218 C394.6,217.67 392.6,216.37 392,215.5 C391.4,214.63 391.1,212.5 391.5,211.5 Z" stroke="#111" stroke-width="1.4" fill="#2a2a2a" />
<ellipse cx="395.2" cy="213.2" rx="1.6" ry="1.5" stroke="none" stroke-width="0" fill="#e8e8e8" />
<ellipse cx="400.8" cy="214.2" rx="1.5" ry="1.4" stroke="none" stroke-width="0" fill="#e8e8e8" />
<ellipse cx="398" cy="210.2" rx="1.2" ry="1" stroke="none" stroke-width="0" fill="#bbb" />
<path d="M280.4,265.1 C281.05,263.63 283.15,262.8 284.5,262.6 C285.85,262.4 289.45,262.67 290.5,263.6 C291.55,264.53 292.33,267.8 292.4,269.6 C292.47,271.4 291.79,275.69 291,277.1 C290.21,278.51 287.77,279.93 286.5,280.2 C285.23,280.47 282.42,279.98 281.5,279.1 C280.58,278.22 279.75,275.47 279.6,273.6 C279.45,271.73 279.75,266.57 280.4,265.1 Z" stroke="#111" stroke-width="1.7" fill="#fff" />
<ellipse cx="287" cy="271.1" rx="3.6" ry="6.6" stroke="#111" stroke-width="1.5" fill="#fff" transform="rotate(15 287 271.1)" />
<ellipse cx="287.6" cy="271.1" rx="1.6" ry="3.8" stroke="#777" stroke-width="0.6" fill="none" transform="rotate(15 287.6 271.1)" />
<path d="M313.6,275.9 C314.25,274.43 316.35,273.6 317.7,273.4 C319.05,273.2 322.65,273.47 323.7,274.4 C324.75,275.33 325.53,278.6 325.6,280.4 C325.67,282.2 324.99,286.49 324.2,287.9 C323.41,289.31 320.97,290.73 319.7,291 C318.43,291.27 315.62,290.78 314.7,289.9 C313.78,289.02 312.95,286.27 312.8,284.4 C312.65,282.53 312.95,277.37 313.6,275.9 Z" stroke="#111" stroke-width="1.7" fill="#fff" />
<ellipse cx="320.2" cy="281.9" rx="3.6" ry="6.6" stroke="#111" stroke-width="1.5" fill="#fff" transform="rotate(15 320.2 281.9)" />
<ellipse cx="320.8" cy="281.9" rx="1.6" ry="3.8" stroke="#777" stroke-width="0.6" fill="none" transform="rotate(15 320.8 281.9)" />
<path d="M64.5,120.8 L76.3,123.8 C77.5,124.3 76.5,129.8 75.1,131.3 L64.5,128.8 Z" stroke="#111" stroke-width="1" fill="#fff" />
<polyline points="72.8,126.95 75.1,127.65" stroke="#777" stroke-width="0.6" fill="none" />
<ellipse cx="60.4" cy="122.9" rx="4.8" ry="9.3" stroke="#111" stroke-width="1.3" fill="#fff" transform="rotate(12 60.4 122.9)" />
<ellipse cx="58.4" cy="123.2" rx="6.2" ry="10.2" stroke="#111" stroke-width="1.3" fill="#e6e6e6" transform="rotate(12 58.4 123.2)" />
<path d="M57.4,114.6 C54.8,119.2 54.2,127.2 56.2,131.8" stroke="#111" stroke-width="1.2" fill="none" />
<polygon points="57.4,114.8 62.4,116.6 63.8,125.4 61,132.2 55,130.6 53.8,121.8" stroke="#111" stroke-width="1.2" fill="#eeeeee" />
<ellipse cx="57.4" cy="114.8" rx="1" ry="1.1" stroke="none" stroke-width="0" fill="#222" />
<ellipse cx="62.4" cy="116.6" rx="1" ry="1.1" stroke="none" stroke-width="0" fill="#222" />
<ellipse cx="63.8" cy="125.4" rx="1" ry="1.1" stroke="none" stroke-width="0" fill="#222" />
<ellipse cx="61" cy="132.2" rx="1" ry="1.1" stroke="none" stroke-width="0" fill="#222" />
<ellipse cx="55" cy="130.6" rx="1" ry="1.1" stroke="none" stroke-width="0" fill="#222" />
<ellipse cx="53.8" cy="121.8" rx="1" ry="1.1" stroke="none" stroke-width="0" fill="#222" />
<polyline points="59,123.4 57.4,114.8" stroke="#444" stroke-width="0.7" fill="none" />
<polyline points="59,123.4 62.4,116.6" stroke="#444" stroke-width="0.7" fill="none" />
<polyline points="59,123.4 63.8,125.4" stroke="#444" stroke-width="0.7" fill="none" />
<polyline points="59,123.4 61,132.2" stroke="#444" stroke-width="0.7" fill="none" />
<polyline points="59,123.4 55,130.6" stroke="#444" stroke-width="0.7" fill="none" />
<polyline points="59,123.4 53.8,121.8" stroke="#444" stroke-width="0.7" fill="none" />
<path d="M70.4,142.9 L83.5,146.2 C84.7,146.7 83.8,151.9 82.4,153.4 L70.4,151.2 Z" stroke="#111" stroke-width="1" fill="#fff" />
<polyline points="80,149.2 82.3,149.9" stroke="#777" stroke-width="0.6" fill="none" />
<ellipse cx="66.6" cy="144.5" rx="4.8" ry="9.3" stroke="#111" stroke-width="1.3" fill="#fff" transform="rotate(12 66.6 144.5)" />
<ellipse cx="64.6" cy="144.8" rx="6.2" ry="10.2" stroke="#111" stroke-width="1.3" fill="#e6e6e6" transform="rotate(12 64.6 144.8)" />
<path d="M63.6,136.2 C61,140.8 60.4,148.8 62.4,153.4" stroke="#111" stroke-width="1.2" fill="none" />
<polygon points="63.6,136.4 68.6,138.2 70,147 67.2,153.8 61.2,152.2 60,143.4" stroke="#111" stroke-width="1.2" fill="#eeeeee" />
<ellipse cx="63.6" cy="136.4" rx="1" ry="1.1" stroke="none" stroke-width="0" fill="#222" />
<ellipse cx="68.6" cy="138.2" rx="1" ry="1.1" stroke="none" stroke-width="0" fill="#222" />
<ellipse cx="70" cy="147" rx="1" ry="1.1" stroke="none" stroke-width="0" fill="#222" />
<ellipse cx="67.2" cy="153.8" rx="1" ry="1.1" stroke="none" stroke-width="0" fill="#222" />
<ellipse cx="61.2" cy="152.2" rx="1" ry="1.1" stroke="none" stroke-width="0" fill="#222" />
<ellipse cx="60" cy="143.4" rx="1" ry="1.1" stroke="none" stroke-width="0" fill="#222" />
<polyline points="65.2,145 63.6,136.4" stroke="#444" stroke-width="0.7" fill="none" />
<polyline points="65.2,145 68.6,138.2" stroke="#444" stroke-width="0.7" fill="none" />
<polyline points="65.2,145 70,147" stroke="#444" stroke-width="0.7" fill="none" />
<polyline points="65.2,145 67.2,153.8" stroke="#444" stroke-width="0.7" fill="none" />
<polyline points="65.2,145 61.2,152.2" stroke="#444" stroke-width="0.7" fill="none" />
<polyline points="65.2,145 60,143.4" stroke="#444" stroke-width="0.7" fill="none" />
<path d="M83.2,164.6 L94.7,167.2 C95.9,167.7 95.1,173.1 93.7,174.6 L83.2,172.6 Z" stroke="#111" stroke-width="1" fill="#fff" />
<polyline points="91.2,170.3 93.5,171" stroke="#777" stroke-width="0.6" fill="none" />
<ellipse cx="79.2" cy="166.1" rx="4.8" ry="9.3" stroke="#111" stroke-width="1.3" fill="#fff" transform="rotate(12 79.2 166.1)" />
<ellipse cx="77.2" cy="166.4" rx="6.2" ry="10.2" stroke="#111" stroke-width="1.3" fill="#e6e6e6" transform="rotate(12 77.2 166.4)" />
<path d="M76.2,157.8 C73.6,162.4 73,170.4 75,175" stroke="#111" stroke-width="1.2" fill="none" />
<polygon points="76.2,158 81.2,159.8 82.6,168.6 79.8,175.4 73.8,173.8 72.6,165" stroke="#111" stroke-width="1.2" fill="#eeeeee" />
<ellipse cx="76.2" cy="158" rx="1" ry="1.1" stroke="none" stroke-width="0" fill="#222" />
<ellipse cx="81.2" cy="159.8" rx="1" ry="1.1" stroke="none" stroke-width="0" fill="#222" />
<ellipse cx="82.6" cy="168.6" rx="1" ry="1.1" stroke="none" stroke-width="0" fill="#222" />
<ellipse cx="79.8" cy="175.4" rx="1" ry="1.1" stroke="none" stroke-width="0" fill="#222" />
<ellipse cx="73.8" cy="173.8" rx="1" ry="1.1" stroke="none" stroke-width="0" fill="#222" />
<ellipse cx="72.6" cy="165" rx="1" ry="1.1" stroke="none" stroke-width="0" fill="#222" />
<polyline points="77.8,166.6 76.2,158" stroke="#444" stroke-width="0.7" fill="none" />
<polyline points="77.8,166.6 81.2,159.8" stroke="#444" stroke-width="0.7" fill="none" />
<polyline points="77.8,166.6 82.6,168.6" stroke="#444" stroke-width="0.7" fill="none" />
<polyline points="77.8,166.6 79.8,175.4" stroke="#444" stroke-width="0.7" fill="none" />
<polyline points="77.8,166.6 73.8,173.8" stroke="#444" stroke-width="0.7" fill="none" />
<polyline points="77.8,166.6 72.6,165" stroke="#444" stroke-width="0.7" fill="none" />
<path d="M209.9,160.4 C211.04,160.12 225.24,166.57 226,167.6 C226.76,168.63 224.04,177.72 222.9,178 C221.76,178.28 207.16,173.43 206.4,172.4 C205.64,171.37 208.76,160.68 209.9,160.4 Z" stroke="#111" stroke-width="1.55" fill="#fff" />
<ellipse cx="214" cy="168.9" rx="2.6" ry="2.8" stroke="#111" stroke-width="0.8" fill="#111" />
<rect x="220.2" y="169.6" width="3.2" height="6" transform="rotate(20 221.8 172.6)" stroke="#111" stroke-width="0.9" fill="none"/>
<path d="M252.4,190.4 C253.36,189.54 264.48,192.89 265,194.2 C265.52,195.51 262.26,211.94 261.3,212.8 C260.34,213.66 249.02,210.31 248.5,209 C247.98,207.69 251.44,191.26 252.4,190.4 Z" stroke="#111" stroke-width="1.55" fill="#fff" />
<ellipse cx="254.8" cy="202.8" rx="2.6" ry="2.8" stroke="#111" stroke-width="0.8" fill="#111" />
<ellipse cx="258.9" cy="193.8" rx="3.5" ry="1.5" stroke="#111" stroke-width="0.9" fill="none" transform="rotate(15 258.9 193.8)" />
<path d="M208.2,196.8 C209.37,196.25 219.51,200.53 219.8,201.8 C220.09,203.07 214.37,218.05 213.2,218.6 C212.03,219.15 200.09,212.47 199.8,211.2 C199.51,209.93 207.03,197.35 208.2,196.8 Z" stroke="#111" stroke-width="1.55" fill="#fff" />
<ellipse cx="210.4" cy="205.3" rx="2.6" ry="2.8" stroke="#111" stroke-width="0.8" fill="#111" />
<polyline points="201.5,212.5 212.2,217.4" stroke="#111" stroke-width="0.8" fill="none" />
<ellipse cx="321" cy="98.3" rx="8.6" ry="13.8" stroke="#111" stroke-width="1.5" fill="#fff" transform="rotate(14 321 98.3)" />
<ellipse cx="322" cy="98.5" rx="6.6" ry="11.6" stroke="#111" stroke-width="0.7" fill="none" transform="rotate(14 322 98.5)" />
<path d="M322.6,92.6 L338.6,99.6 L336.6,113.6 L321.4,107.4 Z" stroke="none" stroke-width="0" fill="#fff" />
<polyline points="322.6,92.6 338.6,99.6" stroke="#111" stroke-width="1.2" fill="none" />
<polyline points="321.4,107.4 336.6,113.6" stroke="#111" stroke-width="1.2" fill="none" />
<ellipse cx="338.6" cy="106.8" rx="3.6" ry="7.4" stroke="#111" stroke-width="1.6" fill="#fff" transform="rotate(14 338.6 106.8)" />
<ellipse cx="338.9" cy="106.8" rx="2" ry="5.2" stroke="#111" stroke-width="1.4" fill="#fff" transform="rotate(14 338.9 106.8)" />
<polyline points="324.5,99.3 333,101.8" stroke="#888" stroke-width="0.5" fill="none" />
<ellipse cx="244.1" cy="276.8" rx="8.2" ry="13.5" stroke="#111" stroke-width="1.5" fill="#fff" transform="rotate(14 244.1 276.8)" />
<ellipse cx="245.1" cy="277" rx="6.2" ry="11.3" stroke="#111" stroke-width="0.7" fill="none" transform="rotate(14 245.1 277)" />
<path d="M246.5,271.6 L262,278 L259.8,292 L244.6,282.6 Z" stroke="none" stroke-width="0" fill="#fff" />
<polyline points="246.5,271.6 262,278" stroke="#111" stroke-width="1.2" fill="none" />
<polyline points="244.6,282.6 259.8,292" stroke="#111" stroke-width="1.2" fill="none" />
<ellipse cx="262.2" cy="285.2" rx="3.7" ry="7.2" stroke="#111" stroke-width="1.6" fill="#fff" transform="rotate(14 262.2 285.2)" />
<ellipse cx="262.5" cy="285.2" rx="2.1" ry="5" stroke="#111" stroke-width="1.4" fill="#fff" transform="rotate(14 262.5 285.2)" />
<polyline points="247.6,277.8 256.1,280.3" stroke="#888" stroke-width="0.5" fill="none" />
<ellipse cx="177.2" cy="346" rx="8.3" ry="13.7" stroke="#111" stroke-width="1.5" fill="#fff" transform="rotate(14 177.2 346)" />
<ellipse cx="178.2" cy="346.2" rx="6.3" ry="11.5" stroke="#111" stroke-width="0.7" fill="none" transform="rotate(14 178.2 346.2)" />
<path d="M178.6,341.8 L195,348.6 L192.6,362.2 L175.6,353.2 Z" stroke="none" stroke-width="0" fill="#fff" />
<polyline points="178.6,341.8 195,348.6" stroke="#111" stroke-width="1.2" fill="none" />
<polyline points="175.6,353.2 192.6,362.2" stroke="#111" stroke-width="1.2" fill="none" />
<ellipse cx="194.8" cy="356" rx="3.5" ry="7.3" stroke="#111" stroke-width="1.6" fill="#fff" transform="rotate(14 194.8 356)" />
<ellipse cx="195.1" cy="356" rx="1.9" ry="5.1" stroke="#111" stroke-width="1.4" fill="#fff" transform="rotate(14 195.1 356)" />
<polyline points="180.7,347 189.2,349.5" stroke="#888" stroke-width="0.5" fill="none" />
<path d="M353,102 L361.4,107.3 L360.4,130.3 L349,130 Z" stroke="none" stroke-width="0" fill="#fff" />
<ellipse cx="351" cy="116" rx="6.8" ry="14.6" stroke="#111" stroke-width="1.9" fill="#fff" transform="rotate(12 351 116)" />
<ellipse cx="351.9" cy="116.2" rx="5.2" ry="12.8" stroke="#111" stroke-width="1.3" fill="none" transform="rotate(12 351.9 116.2)" />
<polyline points="355.2,102.4 362,107.4" stroke="#111" stroke-width="1.5" fill="none" />
<polyline points="352.5,130.2 358.4,130.4" stroke="#111" stroke-width="1.5" fill="none" />
<ellipse cx="360.4" cy="118.8" rx="6.2" ry="11.8" stroke="#111" stroke-width="1.6" fill="#fff" transform="rotate(12 360.4 118.8)" />
<ellipse cx="360" cy="119.2" rx="3.8" ry="6.4" stroke="#111" stroke-width="1.7" fill="#fff" transform="rotate(12 360 119.2)" />
<ellipse cx="360.2" cy="119.2" rx="2.6" ry="5" stroke="#777" stroke-width="0.6" fill="none" transform="rotate(12 360.2 119.2)" />
<path d="M381.2,119.8 L390.2,119.6 L388.2,148.4 L378.2,147.8 Z" stroke="none" stroke-width="0" fill="#fff" />
<ellipse cx="379.6" cy="133.8" rx="5.8" ry="13.8" stroke="#111" stroke-width="1.8" fill="#fff" transform="rotate(10 379.6 133.8)" />
<ellipse cx="384.2" cy="134" rx="6.2" ry="14.1" stroke="#111" stroke-width="1.8" fill="#fff" transform="rotate(10 384.2 134)" />
<ellipse cx="389.2" cy="134" rx="7.1" ry="14.4" stroke="#111" stroke-width="1.8" fill="#fff" transform="rotate(10 389.2 134)" />
<ellipse cx="388.5" cy="134.4" rx="4.3" ry="7" stroke="#111" stroke-width="1.8" fill="#fff" transform="rotate(10 388.5 134.4)" />
<ellipse cx="388.7" cy="134.4" rx="2.9" ry="5.4" stroke="#777" stroke-width="0.6" fill="none" transform="rotate(10 388.7 134.4)" />
<path d="M296.4,290.2 L304.8,295.5 L303.8,318.5 L292.4,318.2 Z" stroke="none" stroke-width="0" fill="#fff" />
<ellipse cx="294.4" cy="304.2" rx="6.8" ry="14.6" stroke="#111" stroke-width="1.9" fill="#fff" transform="rotate(12 294.4 304.2)" />
<ellipse cx="295.3" cy="304.4" rx="5.2" ry="12.8" stroke="#111" stroke-width="1.3" fill="none" transform="rotate(12 295.3 304.4)" />
<polyline points="298.6,290.6 305.4,295.6" stroke="#111" stroke-width="1.5" fill="none" />
<polyline points="295.9,318.4 301.8,318.6" stroke="#111" stroke-width="1.5" fill="none" />
<ellipse cx="303.8" cy="307" rx="6.2" ry="11.8" stroke="#111" stroke-width="1.6" fill="#fff" transform="rotate(12 303.8 307)" />
<ellipse cx="303.4" cy="307.4" rx="3.8" ry="6.4" stroke="#111" stroke-width="1.7" fill="#fff" transform="rotate(12 303.4 307.4)" />
<ellipse cx="303.6" cy="307.4" rx="2.6" ry="5" stroke="#777" stroke-width="0.6" fill="none" transform="rotate(12 303.6 307.4)" />
<path d="M318.4,305.2 L327.4,305 L325.4,333.8 L315.4,333.2 Z" stroke="none" stroke-width="0" fill="#fff" />
<ellipse cx="316.8" cy="319.2" rx="5.8" ry="13.8" stroke="#111" stroke-width="1.8" fill="#fff" transform="rotate(10 316.8 319.2)" />
<ellipse cx="321.4" cy="319.4" rx="6.2" ry="14.1" stroke="#111" stroke-width="1.8" fill="#fff" transform="rotate(10 321.4 319.4)" />
<ellipse cx="326.4" cy="319.4" rx="7.1" ry="14.4" stroke="#111" stroke-width="1.8" fill="#fff" transform="rotate(10 326.4 319.4)" />
<ellipse cx="325.7" cy="319.8" rx="4.3" ry="7" stroke="#111" stroke-width="1.8" fill="#fff" transform="rotate(10 325.7 319.8)" />
<ellipse cx="325.9" cy="319.8" rx="2.9" ry="5.4" stroke="#777" stroke-width="0.6" fill="none" transform="rotate(10 325.9 319.8)" />
<path d="M222.4,357.6 L230.8,362.9 L229.8,385.9 L218.4,385.6 Z" stroke="none" stroke-width="0" fill="#fff" />
<ellipse cx="220.4" cy="371.6" rx="6.8" ry="14.6" stroke="#111" stroke-width="1.9" fill="#fff" transform="rotate(12 220.4 371.6)" />
<ellipse cx="221.3" cy="371.8" rx="5.2" ry="12.8" stroke="#111" stroke-width="1.3" fill="none" transform="rotate(12 221.3 371.8)" />
<polyline points="224.6,358 231.4,363" stroke="#111" stroke-width="1.5" fill="none" />
<polyline points="221.9,385.8 227.8,386" stroke="#111" stroke-width="1.5" fill="none" />
<ellipse cx="229.8" cy="374.4" rx="6.2" ry="11.8" stroke="#111" stroke-width="1.6" fill="#fff" transform="rotate(12 229.8 374.4)" />
<ellipse cx="229.4" cy="374.8" rx="3.8" ry="6.4" stroke="#111" stroke-width="1.7" fill="#fff" transform="rotate(12 229.4 374.8)" />
<ellipse cx="229.6" cy="374.8" rx="2.6" ry="5" stroke="#777" stroke-width="0.6" fill="none" transform="rotate(12 229.6 374.8)" />
<path d="M244.4,373.8 L253.4,373.6 L251.4,402.4 L241.4,401.8 Z" stroke="none" stroke-width="0" fill="#fff" />
<ellipse cx="242.8" cy="387.8" rx="5.8" ry="13.8" stroke="#111" stroke-width="1.8" fill="#fff" transform="rotate(10 242.8 387.8)" />
<ellipse cx="247.4" cy="388" rx="6.2" ry="14.1" stroke="#111" stroke-width="1.8" fill="#fff" transform="rotate(10 247.4 388)" />
<ellipse cx="252.4" cy="388" rx="7.1" ry="14.4" stroke="#111" stroke-width="1.8" fill="#fff" transform="rotate(10 252.4 388)" />
<ellipse cx="251.7" cy="388.4" rx="4.3" ry="7" stroke="#111" stroke-width="1.8" fill="#fff" transform="rotate(10 251.7 388.4)" />
<ellipse cx="251.9" cy="388.4" rx="2.9" ry="5.4" stroke="#777" stroke-width="0.6" fill="none" transform="rotate(10 251.9 388.4)" />
<ellipse cx="399.5" cy="141.2" rx="7.8" ry="12.8" stroke="#111" stroke-width="1.6" fill="#fff" transform="rotate(14 399.5 141.2)" />
<ellipse cx="400.4" cy="141" rx="7.8" ry="12.8" stroke="#111" stroke-width="1.6" fill="#fff" transform="rotate(14 400.4 141)" />
<ellipse cx="400.8" cy="141.4" rx="2" ry="3.4" stroke="#111" stroke-width="1.3" fill="#fff" transform="rotate(14 400.8 141.4)" />
<ellipse cx="339.9" cy="327.6" rx="7.8" ry="12.8" stroke="#111" stroke-width="1.6" fill="#fff" transform="rotate(14 339.9 327.6)" />
<ellipse cx="340.8" cy="327.4" rx="7.8" ry="12.8" stroke="#111" stroke-width="1.6" fill="#fff" transform="rotate(14 340.8 327.4)" />
<ellipse cx="341.2" cy="327.8" rx="2" ry="3.4" stroke="#111" stroke-width="1.3" fill="#333" transform="rotate(14 341.2 327.8)" />
<ellipse cx="265.5" cy="394.6" rx="7.8" ry="12.8" stroke="#111" stroke-width="1.6" fill="#fff" transform="rotate(14 265.5 394.6)" />
<ellipse cx="266.4" cy="394.4" rx="7.8" ry="12.8" stroke="#111" stroke-width="1.6" fill="#fff" transform="rotate(14 266.4 394.4)" />
<ellipse cx="266.8" cy="394.8" rx="2" ry="3.4" stroke="#111" stroke-width="1.3" fill="#333" transform="rotate(14 266.8 394.8)" />
<path d="M408.6,141.2 L445.2,156.8 L442.4,165.6 L407.6,150 Z" stroke="#111" stroke-width="1.4" fill="#fff" />
<polyline points="425.8,148.53 423.96,157.33" stroke="#111" stroke-width="0.9" fill="none" />
<ellipse cx="408.1" cy="145.6" rx="1.6" ry="3.6" stroke="#111" stroke-width="1.2" fill="#fff" transform="rotate(14 408.1 145.6)" />
<ellipse cx="444.3" cy="162.9" rx="5.8" ry="7.4" stroke="#111" stroke-width="1.6" fill="#fff" transform="rotate(14 444.3 162.9)" />
<polygon points="446.6,156.8 451,160 451,166.2 446.4,170.2 441.8,167 441.8,160.4" stroke="#111" stroke-width="1.6" fill="#fff" />
<ellipse cx="446.4" cy="163.6" rx="2.2" ry="2.8" stroke="#111" stroke-width="1" fill="none" />
<path d="M349.4,330 L384.2,345.6 L382.2,352.4 L347.6,336.8 Z" stroke="#111" stroke-width="1.4" fill="#fff" />
<polyline points="365.76,337.33 363.86,344.13" stroke="#111" stroke-width="0.9" fill="none" />
<ellipse cx="348.5" cy="333.4" rx="1.6" ry="3.6" stroke="#111" stroke-width="1.2" fill="#fff" transform="rotate(14 348.5 333.4)" />
<ellipse cx="386.9" cy="351.7" rx="5.8" ry="7.4" stroke="#111" stroke-width="1.6" fill="#fff" transform="rotate(14 386.9 351.7)" />
<polygon points="389.2,345.6 393.6,348.8 393.6,355 389,359 384.4,355.8 384.4,349.2" stroke="#111" stroke-width="1.6" fill="#fff" />
<ellipse cx="389" cy="352.4" rx="2.2" ry="2.8" stroke="#111" stroke-width="1" fill="none" />
<path d="M274.6,397 L308.4,413.4 L305.4,419.4 L273.6,403.8 Z" stroke="#111" stroke-width="1.4" fill="#fff" />
<polyline points="290.49,404.71 288.55,411.13" stroke="#111" stroke-width="0.9" fill="none" />
<ellipse cx="274.1" cy="400.4" rx="1.6" ry="3.6" stroke="#111" stroke-width="1.2" fill="#fff" transform="rotate(14 274.1 400.4)" />
<ellipse cx="311.9" cy="418.1" rx="5.8" ry="7.4" stroke="#111" stroke-width="1.6" fill="#fff" transform="rotate(14 311.9 418.1)" />
<polygon points="314.2,412 318.6,415.2 318.6,421.4 314,425.4 309.4,422.2 309.4,415.6" stroke="#111" stroke-width="1.6" fill="#fff" />
<ellipse cx="314" cy="418.8" rx="2.2" ry="2.8" stroke="#111" stroke-width="1" fill="none" />
<path d="M478.7,110.5 C476.23,112.05 480.53,117.17 482.2,118.6 C483.87,120.03 488.91,121.52 491.2,121.2 C493.49,120.88 498.13,118.09 499.4,116.2 C500.67,114.31 503.46,107.76 500.7,107 C497.94,106.24 481.17,108.95 478.7,110.5 Z" stroke="#111" stroke-width="1.2" fill="#161616" />
<polyline points="484.2,114.5 484.6,119.5" stroke="#bbb" stroke-width="0.9" fill="none" />
<polyline points="487.4,113.9 487.8,118.7" stroke="#bbb" stroke-width="0.9" fill="none" />
<polyline points="490.6,113.3 491,117.9" stroke="#bbb" stroke-width="0.9" fill="none" />
<polyline points="493.8,112.7 494.2,117.1" stroke="#bbb" stroke-width="0.9" fill="none" />
<polyline points="497,112.1 497.4,116.3" stroke="#bbb" stroke-width="0.9" fill="none" />
<ellipse cx="489" cy="108" rx="12.3" ry="7.4" stroke="#111" stroke-width="1.3" fill="#fff" transform="rotate(-25 489 108)" />
<ellipse cx="488.2" cy="105" rx="12" ry="7.2" stroke="#111" stroke-width="1.2" fill="#141414" transform="rotate(-25 488.2 105)" />
<ellipse cx="487.8" cy="106" rx="3.6" ry="1.4" stroke="none" stroke-width="0" fill="#fff" transform="rotate(-28 487.8 106)" />
<ellipse cx="485.7" cy="106.6" rx="5.5" ry="3" stroke="#666" stroke-width="0.6" fill="none" transform="rotate(-28 485.7 106.6)" />
<path d="M436.8,140.5 C434.33,142.05 438.63,147.17 440.3,148.6 C441.97,150.03 447.01,151.52 449.3,151.2 C451.59,150.88 456.23,148.09 457.5,146.2 C458.77,144.31 461.56,137.76 458.8,137 C456.04,136.24 439.27,138.95 436.8,140.5 Z" stroke="#111" stroke-width="1.2" fill="#161616" />
<polyline points="442.3,144.5 442.7,149.5" stroke="#bbb" stroke-width="0.9" fill="none" />
<polyline points="445.5,143.9 445.9,148.7" stroke="#bbb" stroke-width="0.9" fill="none" />
<polyline points="448.7,143.3 449.1,147.9" stroke="#bbb" stroke-width="0.9" fill="none" />
<polyline points="451.9,142.7 452.3,147.1" stroke="#bbb" stroke-width="0.9" fill="none" />
<polyline points="455.1,142.1 455.5,146.3" stroke="#bbb" stroke-width="0.9" fill="none" />
<ellipse cx="447.1" cy="138" rx="12.3" ry="7.4" stroke="#111" stroke-width="1.3" fill="#fff" transform="rotate(-25 447.1 138)" />
<ellipse cx="446.3" cy="135" rx="12" ry="7.2" stroke="#111" stroke-width="1.2" fill="#141414" transform="rotate(-25 446.3 135)" />
<ellipse cx="445.9" cy="136" rx="3.6" ry="1.4" stroke="none" stroke-width="0" fill="#fff" transform="rotate(-28 445.9 136)" />
<ellipse cx="443.8" cy="136.6" rx="5.5" ry="3" stroke="#666" stroke-width="0.6" fill="none" transform="rotate(-28 443.8 136.6)" />
<ellipse cx="448.2" cy="301.8" rx="8.2" ry="6.4" stroke="#111" stroke-width="1.6" fill="#fff" transform="rotate(48 448.2 301.8)" />
<ellipse cx="447" cy="303" rx="8.2" ry="6.4" stroke="#111" stroke-width="1.6" fill="#555" transform="rotate(48 447 303)" />
<ellipse cx="445.6" cy="304.4" rx="8.2" ry="6.4" stroke="#111" stroke-width="1.6" fill="#fff" transform="rotate(48 445.6 304.4)" />
<ellipse cx="445.9" cy="304.7" rx="3.6" ry="2.8" stroke="#111" stroke-width="1.4" fill="#fff" transform="rotate(48 445.9 304.7)" />
<ellipse cx="429.2" cy="325.8" rx="8.2" ry="6.4" stroke="#111" stroke-width="1.6" fill="#fff" transform="rotate(48 429.2 325.8)" />
<ellipse cx="428" cy="327" rx="8.2" ry="6.4" stroke="#111" stroke-width="1.6" fill="#555" transform="rotate(48 428 327)" />
<ellipse cx="426.6" cy="328.4" rx="8.2" ry="6.4" stroke="#111" stroke-width="1.6" fill="#fff" transform="rotate(48 426.6 328.4)" />
<ellipse cx="426.9" cy="328.7" rx="3.6" ry="2.8" stroke="#111" stroke-width="1.4" fill="#fff" transform="rotate(48 426.9 328.7)" />
<ellipse cx="563.2" cy="242.6" rx="13.8" ry="3.6" stroke="#111" stroke-width="1.6" fill="#fff" transform="rotate(-35 563.2 242.6)" />
<ellipse cx="563.8" cy="240.8" rx="13.8" ry="3.6" stroke="#111" stroke-width="1.6" fill="#fff" transform="rotate(-35 563.8 240.8)" />
<ellipse cx="562.8" cy="240" rx="3.6" ry="1.2" stroke="#111" stroke-width="1" fill="#333" transform="rotate(-35 562.8 240)" />
<ellipse cx="563.2" cy="240.4" rx="7" ry="2" stroke="#777" stroke-width="0.6" fill="none" transform="rotate(-35 563.2 240.4)" />
<path d="M588.6,269.5 L590.6,278.2 C592.5,279.6 597.5,279.2 600.4,276.2 L599.0,267.5 Z" stroke="#111" stroke-width="1.5" fill="#fff" />
<ellipse cx="591.2" cy="266.3" rx="12.2" ry="4" stroke="#111" stroke-width="2" fill="#fff" transform="rotate(-35 591.2 266.3)" />
<ellipse cx="592.6" cy="265.4" rx="6.5" ry="2" stroke="#111" stroke-width="1.3" fill="#fff" transform="rotate(-35 592.6 265.4)" />
<path d="M651.4,335.6 L660.8,357.2 L666.6,355.0 L657.6,334.0 Z" stroke="#111" stroke-width="1.3" fill="#fff" />
<ellipse cx="654.5" cy="334.8" rx="3.2" ry="1.7" stroke="#111" stroke-width="1.3" fill="#fff" transform="rotate(-25 654.5 334.8)" />
<ellipse cx="668.8" cy="360.4" rx="8.8" ry="4.6" stroke="#111" stroke-width="1.6" fill="#fff" transform="rotate(-30 668.8 360.4)" />
<ellipse cx="668.8" cy="358.6" rx="8.4" ry="4" stroke="#111" stroke-width="1.2" fill="#fff" transform="rotate(-30 668.8 358.6)" />
<polyline points="661.5,360.5 663,364.5" stroke="#111" stroke-width="0.9" fill="none" />
<path d="M426.2,58 C426.49,57.35 427.71,55.54 428.5,55 C429.29,54.46 431.77,53.77 433,53.4 C434.23,53.03 437.62,52.08 439,51.8 C440.38,51.52 443.94,50.8 444.8,51 C445.66,51.2 446.49,52.8 446.4,53.5 C446.31,54.2 444.75,56.15 444,57 C443.25,57.85 441.05,60.05 440,60.8 C438.95,61.55 436.28,63.14 435,63.4 C433.72,63.66 430.05,63.33 429,63 C427.95,62.67 426.33,61.18 426,60.6 C425.67,60.02 425.91,58.65 426.2,58 Z" stroke="#111" stroke-width="2.2" fill="#fff" />
<ellipse cx="436.8" cy="57.2" rx="5.6" ry="3" stroke="#111" stroke-width="1.6" fill="#fff" transform="rotate(-22 436.8 57.2)" />
<path d="M551.0,50.2 C551.0,48.9 555.4,48.7 555.6,50.0 L557.0,58.2 L558.0,65.3 L559.0,71.2 L560.0,81.5 L550.4,81.6 L550.5,71.2 L550.7,65.3 L550.9,58.2 Z" stroke="#111" stroke-width="1.5" fill="#fff" />
<polyline points="550.9,58.2 557,58.2" stroke="#111" stroke-width="1.3" fill="none" />
<polyline points="550.7,65.3 558,65.3" stroke="#111" stroke-width="1.3" fill="none" />
<polyline points="550.5,71.2 559,71.2" stroke="#111" stroke-width="1.3" fill="none" />
<polyline points="550.4,77.8 559.6,77.8" stroke="#111" stroke-width="1.3" fill="none" />
<path d="M549.8,81.6 L561.2,81.4 L561.4,89.8 L550.0,90.0 Z" stroke="#111" stroke-width="1.7" fill="#fff" />
<polyline points="553.6,81.6 553.6,89.9" stroke="#111" stroke-width="0.9" fill="none" />
<polyline points="557.6,81.5 557.6,89.8" stroke="#111" stroke-width="0.9" fill="none" />
<path d="M552.3,90.0 L560.6,89.8 L560.4,97.6 C558.8,99.2 554.0,99.2 552.4,97.8 Z" stroke="#111" stroke-width="1.6" fill="#fff" />
<polyline points="552.3,92.8 560.6,92.6" stroke="#111" stroke-width="0.9" fill="none" />
<path d="M489.2,176.4 C490.28,174.6 510.05,168.07 511.6,167.6 C513.15,167.13 515.22,167.5 515.8,168.4 C516.38,169.3 521.47,181.81 521.6,183 C521.73,184.19 519.43,187.84 518,188.8 C516.57,189.76 498.46,198.84 497,199.4 C495.54,199.96 493.45,199.74 493,198.4 C492.55,197.06 488.12,178.2 489.2,176.4 Z" stroke="#111" stroke-width="1.6" fill="#fff" />
<ellipse cx="507.4" cy="181.4" rx="3.4" ry="3.8" stroke="#111" stroke-width="1.2" fill="#1a1a1a" />
<ellipse cx="506.6" cy="180.6" rx="1.3" ry="1.6" stroke="none" stroke-width="0" fill="#fff" />
<polygon points="490.6,184.8 496,182.6 498,189 492.6,191.2" stroke="#111" stroke-width="1" fill="none" />
<polygon points="374.4,176.2 377.4,172 381.4,173.6 379,179 375.6,179.6" stroke="#111" stroke-width="1.6" fill="#fff" />
<polygon points="387.4,181 389.8,177 394,178.4 392.2,183.4 389,183.8" stroke="#111" stroke-width="1.6" fill="#fff" />
<path d="M379.4,164.6 C379.47,164.36 380.35,162.76 381.2,162.9 C382.05,163.04 398.83,167.43 399.8,168 C400.77,168.57 404.27,176.14 404.4,176.6 C404.52,177.06 403.61,179.07 402.8,179 C401.99,178.93 385.84,175.03 385,174.8 C384.16,174.58 382.83,173.86 382.6,173.6 C382.38,173.34 379.73,168.97 379.6,168.6 C379.47,168.22 379.33,164.84 379.4,164.6 Z" stroke="#111" stroke-width="1.9" fill="#fff" />
<polyline points="381.6,166.2 399,171.2 402.5,177" stroke="#111" stroke-width="1.3" fill="none" />
<polyline points="383.5,169.6 399.5,174.2" stroke="#666" stroke-width="0.8" fill="none" />
<polyline points="382,166.5 382.8,173.5" stroke="#111" stroke-width="1.2" fill="none" />
<ellipse cx="638" cy="318.6" rx="12.4" ry="5.6" stroke="#111" stroke-width="1.6" fill="#fff" transform="rotate(-33 638 318.6)" />
<ellipse cx="636.2" cy="315.2" rx="12.2" ry="5.2" stroke="#111" stroke-width="1.3" fill="#fff" transform="rotate(-33 636.2 315.2)" />
<ellipse cx="633.3" cy="311.6" rx="12.6" ry="5.6" stroke="#111" stroke-width="1.7" fill="#fff" transform="rotate(-33 633.3 311.6)" />
<ellipse cx="632.8" cy="310.4" rx="4.8" ry="1.4" stroke="#111" stroke-width="1.2" fill="#333" transform="rotate(-33 632.8 310.4)" />
<polyline points="508.4,279.8 565.4,315.9" stroke="#5a5a5a" stroke-width="0.8" fill="none" />
<polyline points="475.5,381 497.5,410.5" stroke="#666666" stroke-width="0.9" fill="none" stroke-dasharray="4.6 2.2"/>
</svg>
</body></html>
